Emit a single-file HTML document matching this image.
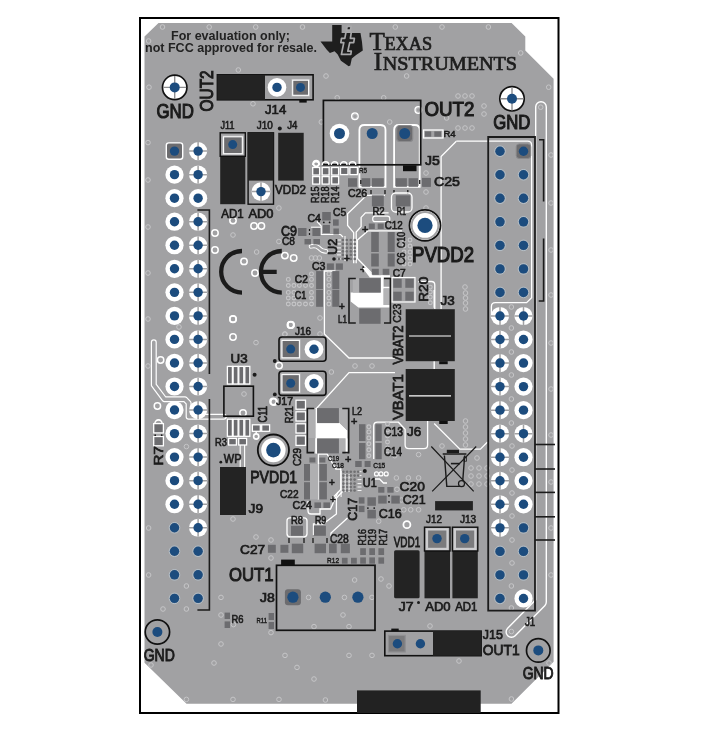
<!DOCTYPE html><html><head><meta charset="utf-8"><style>html,body{margin:0;padding:0;background:#fff;width:702px;height:736px;overflow:hidden}svg{display:block;will-change:transform}</style></head><body>
<svg width="702" height="736" viewBox="0 0 702 736">
<path d="M158.5 23H511.6L525.3 36.6V50.6L553.6 78.8V661.7L511.5 703.7H186.5L144.5 662.8V36.5Z" fill="#a1a1a3"/>
<rect x="140" y="18" width="418.5" height="695" fill="none" stroke="#000" stroke-width="2"/>
<path d="M456.3 141.2H527.6Q531.6 141.2 531.6 145.2V297.8L526.6 302.7H495.4Q491.4 302.7 491.4 306.7V318" fill="none" stroke="#ffffff" stroke-width="1.3"/>
<path d="M441.1 309V156.5L456.3 141.2" fill="none" stroke="#ffffff" stroke-width="1.3"/>
<path d="M434.8 309V285Q434.8 281.5 431.3 281.5H418" fill="none" stroke="#ffffff" stroke-width="1.3"/>
<path d="M434.2 423.5L459.9 449.1H480.4L487.5 442" fill="none" stroke="#ffffff" stroke-width="1.3"/>
<path d="M335.5 271H324.4V334L349 358H395" fill="none" stroke="#ffffff" stroke-width="1.3"/>
<path d="M316 409L349 372.6H395" fill="none" stroke="#ffffff" stroke-width="1.3"/>
<path d="M541 107V602L511.4 632" fill="none" stroke="#ffffff" stroke-width="12.0" stroke-linecap="round" stroke-linejoin="round"/>
<path d="M541 107V602L511.4 632" fill="none" stroke="#a1a1a3" stroke-width="9.2" stroke-linecap="round" stroke-linejoin="round"/>
<path d="M153.8 342.2V385L164.4 399.2H185L188.6 403V416.8H223.8" fill="none" stroke="#ffffff" stroke-width="6.0" stroke-linecap="round" stroke-linejoin="round"/>
<path d="M153.8 342.2V385L164.4 399.2H185L188.6 403V416.8H223.8" fill="none" stroke="#a1a1a3" stroke-width="3.6" stroke-linecap="round" stroke-linejoin="round"/>
<path d="M385 195.4H366.6L347.6 213.7V225.4L353.7 232.7V263.3" fill="none" stroke="#ffffff" stroke-width="1.3"/>
<path d="M388.6 212.9H365.4L361.1 217.4V226.6L356.2 232.1V263.3" fill="none" stroke="#ffffff" stroke-width="1.3"/>
<path d="M402 230.9H367.8L357.4 240V258.4L372.7 274.3" fill="none" stroke="#ffffff" stroke-width="1.3"/>
<path d="M337 240H341" fill="none" stroke="#ffffff" stroke-width="0.9"/>
<path d="M337 243.9H341" fill="none" stroke="#ffffff" stroke-width="0.9"/>
<path d="M337 247.9H341" fill="none" stroke="#ffffff" stroke-width="0.9"/>
<path d="M337 251.4H341" fill="none" stroke="#ffffff" stroke-width="0.9"/>
<path d="M337 254.9H341" fill="none" stroke="#ffffff" stroke-width="0.9"/>
<path d="M337 258.9H341" fill="none" stroke="#ffffff" stroke-width="0.9"/>
<path d="M345 236V261" fill="none" stroke="#ffffff" stroke-width="1.0"/>
<path d="M311 246.4Q316 245 319 248Q322 251.4 326 251.4" fill="none" stroke="#ffffff" stroke-width="4.6" stroke-linecap="round" stroke-linejoin="round"/>
<path d="M311 246.4Q316 245 319 248Q322 251.4 326 251.4" fill="none" stroke="#a1a1a3" stroke-width="2.6" stroke-linecap="round" stroke-linejoin="round"/>
<path d="M434.2 290V307.8M434.2 361V369" fill="none" stroke="#ffffff" stroke-width="1.4"/>
<path d="M240.2 445V467M244.6 445V467" fill="none" stroke="#ffffff" stroke-width="1.1"/>
<path d="M373.7 459V426Q373.7 422.2 377.5 422.2H398.4L405.1 429.2V445Q405.1 448.6 409 448.6H424Q427.6 448.6 427.6 445V421" fill="none" stroke="#ffffff" stroke-width="1.3"/>
<path d="M341.1 471V497M345.1 474V492M349.1 474V492" fill="none" stroke="#ffffff" stroke-width="1.0"/>
<path d="M374 479H379.5L383.5 483H387" fill="none" stroke="#ffffff" stroke-width="1.3"/>
<path d="M318.4 499.4V454H327L335.8 469H340.8V489.4L330.5 500" fill="none" stroke="#ffffff" stroke-width="1.3"/>
<path d="M308 501V511Q308 514 311 514H320V509H330.5L338 492" fill="none" stroke="#ffffff" stroke-width="1.3"/>
<path d="M343 491L336.4 498V514L323 524H313.5V535" fill="none" stroke="#ffffff" stroke-width="1.3"/>
<path d="M347.5 518L331 533V540" fill="none" stroke="#ffffff" stroke-width="1.3"/>
<path d="M287 517.8V536M307 517.8V536" fill="none" stroke="#ffffff" stroke-width="0"/>
<path d="M317 221.5L321.2 226V234.5H340.5L343 237" fill="none" stroke="#ffffff" stroke-width="1.2"/>
<path d="M311 227.2H320.8" fill="none" stroke="#ffffff" stroke-width="1.0"/>
<circle cx="354.9" cy="116.3" r="3.2" fill="none" stroke="#ffffff" stroke-width="1.5"/>
<circle cx="418.3" cy="110" r="3.2" fill="none" stroke="#ffffff" stroke-width="1.5"/>
<circle cx="316.2" cy="163.5" r="2.8" fill="none" stroke="#ffffff" stroke-width="1.8"/>
<circle cx="311.5" cy="258" r="2.3" fill="none" stroke="#c6c6c8" stroke-width="1.0"/>
<circle cx="315.4" cy="258" r="2.3" fill="none" stroke="#c6c6c8" stroke-width="1.0"/>
<circle cx="319.4" cy="258" r="2.3" fill="none" stroke="#c6c6c8" stroke-width="1.0"/>
<circle cx="256.2" cy="436.5" r="2.6" fill="none" stroke="#ffffff" stroke-width="1.6"/>
<circle cx="376.5" cy="473.9" r="2.0" fill="none" stroke="#ffffff" stroke-width="1.2"/>
<circle cx="381" cy="473.9" r="2.0" fill="none" stroke="#ffffff" stroke-width="1.2"/>
<circle cx="386.2" cy="473.9" r="2.0" fill="none" stroke="#ffffff" stroke-width="1.2"/>
<circle cx="406.9" cy="524.7" r="3.5" fill="none" stroke="#ffffff" stroke-width="1.8"/>
<circle cx="162.5" cy="27" r="2.3" fill="none" stroke="#c6c6c8" stroke-width="1.0"/>
<circle cx="209.2" cy="27" r="2.3" fill="none" stroke="#c6c6c8" stroke-width="1.0"/>
<circle cx="255.7" cy="27" r="2.3" fill="none" stroke="#c6c6c8" stroke-width="1.0"/>
<circle cx="148.6" cy="41" r="2.3" fill="none" stroke="#c6c6c8" stroke-width="1.0"/>
<circle cx="238.3" cy="70" r="2.3" fill="none" stroke="#c6c6c8" stroke-width="1.0"/>
<circle cx="149" cy="87.2" r="2.3" fill="none" stroke="#c6c6c8" stroke-width="1.0"/>
<circle cx="253" cy="103.8" r="2.3" fill="none" stroke="#c6c6c8" stroke-width="1.0"/>
<circle cx="148" cy="142.6" r="2.3" fill="none" stroke="#c6c6c8" stroke-width="1.0"/>
<circle cx="302.5" cy="27" r="2.3" fill="none" stroke="#c6c6c8" stroke-width="1.0"/>
<circle cx="326" cy="76" r="2.3" fill="none" stroke="#c6c6c8" stroke-width="1.0"/>
<circle cx="395.3" cy="27" r="2.3" fill="none" stroke="#c6c6c8" stroke-width="1.0"/>
<circle cx="406.6" cy="76" r="2.3" fill="none" stroke="#c6c6c8" stroke-width="1.0"/>
<circle cx="389.7" cy="122" r="2.3" fill="none" stroke="#c6c6c8" stroke-width="1.0"/>
<circle cx="337.2" cy="97.8" r="2.3" fill="none" stroke="#c6c6c8" stroke-width="1.0"/>
<circle cx="383.7" cy="97.8" r="2.3" fill="none" stroke="#c6c6c8" stroke-width="1.0"/>
<circle cx="321.3" cy="122" r="2.3" fill="none" stroke="#c6c6c8" stroke-width="1.0"/>
<circle cx="442" cy="27" r="2.3" fill="none" stroke="#c6c6c8" stroke-width="1.0"/>
<circle cx="488.4" cy="27" r="2.3" fill="none" stroke="#c6c6c8" stroke-width="1.0"/>
<circle cx="520.7" cy="53" r="2.3" fill="none" stroke="#c6c6c8" stroke-width="1.0"/>
<circle cx="548.7" cy="87.2" r="2.3" fill="none" stroke="#c6c6c8" stroke-width="1.0"/>
<circle cx="458" cy="96" r="2.3" fill="none" stroke="#c6c6c8" stroke-width="1.0"/>
<circle cx="465" cy="96" r="2.3" fill="none" stroke="#c6c6c8" stroke-width="1.0"/>
<circle cx="472" cy="96" r="2.3" fill="none" stroke="#c6c6c8" stroke-width="1.0"/>
<circle cx="446.6" cy="118" r="2.3" fill="none" stroke="#c6c6c8" stroke-width="1.0"/>
<circle cx="484" cy="106" r="2.3" fill="none" stroke="#c6c6c8" stroke-width="1.0"/>
<circle cx="484" cy="114" r="2.3" fill="none" stroke="#c6c6c8" stroke-width="1.0"/>
<circle cx="458" cy="128" r="2.3" fill="none" stroke="#c6c6c8" stroke-width="1.0"/>
<circle cx="465" cy="128" r="2.3" fill="none" stroke="#c6c6c8" stroke-width="1.0"/>
<circle cx="472" cy="128" r="2.3" fill="none" stroke="#c6c6c8" stroke-width="1.0"/>
<circle cx="540.7" cy="107.2" r="2.3" fill="none" stroke="#c6c6c8" stroke-width="1.0"/>
<circle cx="551" cy="155" r="2.3" fill="none" stroke="#c6c6c8" stroke-width="1.0"/>
<circle cx="148" cy="180" r="2.3" fill="none" stroke="#c6c6c8" stroke-width="1.0"/>
<circle cx="148" cy="227" r="2.3" fill="none" stroke="#c6c6c8" stroke-width="1.0"/>
<circle cx="148" cy="273" r="2.3" fill="none" stroke="#c6c6c8" stroke-width="1.0"/>
<circle cx="233" cy="235" r="2.3" fill="none" stroke="#c6c6c8" stroke-width="1.0"/>
<circle cx="256.6" cy="252" r="2.3" fill="none" stroke="#c6c6c8" stroke-width="1.0"/>
<circle cx="278.9" cy="208" r="2.3" fill="none" stroke="#c6c6c8" stroke-width="1.0"/>
<circle cx="278.9" cy="241.5" r="2.3" fill="none" stroke="#c6c6c8" stroke-width="1.0"/>
<circle cx="148" cy="319" r="2.3" fill="none" stroke="#c6c6c8" stroke-width="1.0"/>
<circle cx="179" cy="327" r="2.3" fill="none" stroke="#c6c6c8" stroke-width="1.0"/>
<circle cx="148" cy="366" r="2.3" fill="none" stroke="#c6c6c8" stroke-width="1.0"/>
<circle cx="256" cy="342.6" r="2.3" fill="none" stroke="#c6c6c8" stroke-width="1.0"/>
<circle cx="244" cy="394" r="2.3" fill="none" stroke="#c6c6c8" stroke-width="1.0"/>
<circle cx="284.8" cy="334.2" r="2.3" fill="none" stroke="#c6c6c8" stroke-width="1.0"/>
<circle cx="186.4" cy="446.6" r="2.3" fill="none" stroke="#c6c6c8" stroke-width="1.0"/>
<circle cx="148.6" cy="528" r="2.3" fill="none" stroke="#c6c6c8" stroke-width="1.0"/>
<circle cx="148.6" cy="575" r="2.3" fill="none" stroke="#c6c6c8" stroke-width="1.0"/>
<circle cx="233" cy="519" r="2.3" fill="none" stroke="#c6c6c8" stroke-width="1.0"/>
<circle cx="256" cy="537" r="2.3" fill="none" stroke="#c6c6c8" stroke-width="1.0"/>
<circle cx="271" cy="540" r="2.3" fill="none" stroke="#c6c6c8" stroke-width="1.0"/>
<circle cx="271" cy="558" r="2.3" fill="none" stroke="#c6c6c8" stroke-width="1.0"/>
<circle cx="186.4" cy="586" r="2.3" fill="none" stroke="#c6c6c8" stroke-width="1.0"/>
<circle cx="221" cy="597.4" r="2.3" fill="none" stroke="#c6c6c8" stroke-width="1.0"/>
<circle cx="163" cy="609" r="2.3" fill="none" stroke="#c6c6c8" stroke-width="1.0"/>
<circle cx="186.4" cy="609" r="2.3" fill="none" stroke="#c6c6c8" stroke-width="1.0"/>
<circle cx="221" cy="615" r="2.3" fill="none" stroke="#c6c6c8" stroke-width="1.0"/>
<circle cx="233.4" cy="624.6" r="2.3" fill="none" stroke="#c6c6c8" stroke-width="1.0"/>
<circle cx="271" cy="632.6" r="2.3" fill="none" stroke="#c6c6c8" stroke-width="1.0"/>
<circle cx="221" cy="644" r="2.3" fill="none" stroke="#c6c6c8" stroke-width="1.0"/>
<circle cx="214" cy="663" r="2.3" fill="none" stroke="#c6c6c8" stroke-width="1.0"/>
<circle cx="151" cy="665" r="2.3" fill="none" stroke="#c6c6c8" stroke-width="1.0"/>
<circle cx="186.4" cy="699.4" r="2.3" fill="none" stroke="#c6c6c8" stroke-width="1.0"/>
<circle cx="233" cy="699.4" r="2.3" fill="none" stroke="#c6c6c8" stroke-width="1.0"/>
<circle cx="279" cy="699.4" r="2.3" fill="none" stroke="#c6c6c8" stroke-width="1.0"/>
<circle cx="354.6" cy="580" r="2.3" fill="none" stroke="#c6c6c8" stroke-width="1.0"/>
<circle cx="381" cy="579" r="2.3" fill="none" stroke="#c6c6c8" stroke-width="1.0"/>
<circle cx="389" cy="586" r="2.3" fill="none" stroke="#c6c6c8" stroke-width="1.0"/>
<circle cx="308.6" cy="597.4" r="2.3" fill="none" stroke="#c6c6c8" stroke-width="1.0"/>
<circle cx="344.4" cy="597.4" r="2.3" fill="none" stroke="#c6c6c8" stroke-width="1.0"/>
<circle cx="372" cy="597.4" r="2.3" fill="none" stroke="#c6c6c8" stroke-width="1.0"/>
<circle cx="343" cy="615" r="2.3" fill="none" stroke="#c6c6c8" stroke-width="1.0"/>
<circle cx="314" cy="626.6" r="2.3" fill="none" stroke="#c6c6c8" stroke-width="1.0"/>
<circle cx="349" cy="626.6" r="2.3" fill="none" stroke="#c6c6c8" stroke-width="1.0"/>
<circle cx="285" cy="655.4" r="2.3" fill="none" stroke="#c6c6c8" stroke-width="1.0"/>
<circle cx="349" cy="655.4" r="2.3" fill="none" stroke="#c6c6c8" stroke-width="1.0"/>
<circle cx="372" cy="655.4" r="2.3" fill="none" stroke="#c6c6c8" stroke-width="1.0"/>
<circle cx="297" cy="667.4" r="2.3" fill="none" stroke="#c6c6c8" stroke-width="1.0"/>
<circle cx="314" cy="679" r="2.3" fill="none" stroke="#c6c6c8" stroke-width="1.0"/>
<circle cx="325.4" cy="700" r="2.3" fill="none" stroke="#c6c6c8" stroke-width="1.0"/>
<circle cx="511.4" cy="586" r="2.3" fill="none" stroke="#c6c6c8" stroke-width="1.0"/>
<circle cx="511.4" cy="608" r="2.3" fill="none" stroke="#c6c6c8" stroke-width="1.0"/>
<circle cx="430" cy="626" r="2.3" fill="none" stroke="#c6c6c8" stroke-width="1.0"/>
<circle cx="511.4" cy="631.5" r="2.3" fill="none" stroke="#c6c6c8" stroke-width="1.0"/>
<circle cx="459" cy="661" r="2.3" fill="none" stroke="#c6c6c8" stroke-width="1.0"/>
<circle cx="511.4" cy="699" r="2.3" fill="none" stroke="#c6c6c8" stroke-width="1.0"/>
<circle cx="549" cy="663" r="2.3" fill="none" stroke="#c6c6c8" stroke-width="1.0"/>
<circle cx="442" cy="446" r="2.3" fill="none" stroke="#c6c6c8" stroke-width="1.0"/>
<circle cx="477" cy="458" r="2.3" fill="none" stroke="#c6c6c8" stroke-width="1.0"/>
<circle cx="512" cy="446" r="2.3" fill="none" stroke="#c6c6c8" stroke-width="1.0"/>
<circle cx="512" cy="470" r="2.3" fill="none" stroke="#c6c6c8" stroke-width="1.0"/>
<circle cx="512" cy="493" r="2.3" fill="none" stroke="#c6c6c8" stroke-width="1.0"/>
<circle cx="512" cy="516" r="2.3" fill="none" stroke="#c6c6c8" stroke-width="1.0"/>
<circle cx="512" cy="540" r="2.3" fill="none" stroke="#c6c6c8" stroke-width="1.0"/>
<circle cx="512" cy="563" r="2.3" fill="none" stroke="#c6c6c8" stroke-width="1.0"/>
<circle cx="551" cy="482" r="2.3" fill="none" stroke="#c6c6c8" stroke-width="1.0"/>
<circle cx="551" cy="528" r="2.3" fill="none" stroke="#c6c6c8" stroke-width="1.0"/>
<circle cx="551" cy="575" r="2.3" fill="none" stroke="#c6c6c8" stroke-width="1.0"/>
<circle cx="511.4" cy="307" r="2.3" fill="none" stroke="#c6c6c8" stroke-width="1.0"/>
<circle cx="511.4" cy="328" r="2.3" fill="none" stroke="#c6c6c8" stroke-width="1.0"/>
<circle cx="511.4" cy="352" r="2.3" fill="none" stroke="#c6c6c8" stroke-width="1.0"/>
<circle cx="511.4" cy="375" r="2.3" fill="none" stroke="#c6c6c8" stroke-width="1.0"/>
<circle cx="511.4" cy="399" r="2.3" fill="none" stroke="#c6c6c8" stroke-width="1.0"/>
<circle cx="511.4" cy="423" r="2.3" fill="none" stroke="#c6c6c8" stroke-width="1.0"/>
<circle cx="551" cy="343" r="2.3" fill="none" stroke="#c6c6c8" stroke-width="1.0"/>
<circle cx="551" cy="389" r="2.3" fill="none" stroke="#c6c6c8" stroke-width="1.0"/>
<circle cx="551" cy="435" r="2.3" fill="none" stroke="#c6c6c8" stroke-width="1.0"/>
<circle cx="465.5" cy="293" r="2.3" fill="none" stroke="#c6c6c8" stroke-width="1.0"/>
<circle cx="465.5" cy="298" r="2.3" fill="none" stroke="#c6c6c8" stroke-width="1.0"/>
<circle cx="465.5" cy="303" r="2.3" fill="none" stroke="#c6c6c8" stroke-width="1.0"/>
<circle cx="465.5" cy="309" r="2.3" fill="none" stroke="#c6c6c8" stroke-width="1.0"/>
<circle cx="465.5" cy="421" r="2.3" fill="none" stroke="#c6c6c8" stroke-width="1.0"/>
<circle cx="465.5" cy="427" r="2.3" fill="none" stroke="#c6c6c8" stroke-width="1.0"/>
<circle cx="465.5" cy="433" r="2.3" fill="none" stroke="#c6c6c8" stroke-width="1.0"/>
<circle cx="426" cy="173" r="2.3" fill="none" stroke="#c6c6c8" stroke-width="1.0"/>
<circle cx="426" cy="192" r="2.3" fill="none" stroke="#c6c6c8" stroke-width="1.0"/>
<circle cx="426" cy="208" r="2.3" fill="none" stroke="#c6c6c8" stroke-width="1.0"/>
<circle cx="551" cy="203" r="2.3" fill="none" stroke="#c6c6c8" stroke-width="1.0"/>
<circle cx="551" cy="250" r="2.3" fill="none" stroke="#c6c6c8" stroke-width="1.0"/>
<circle cx="551" cy="295" r="2.3" fill="none" stroke="#c6c6c8" stroke-width="1.0"/>
<circle cx="465" cy="287" r="2.3" fill="none" stroke="#c6c6c8" stroke-width="1.0"/>
<circle cx="355" cy="366" r="2.3" fill="none" stroke="#c6c6c8" stroke-width="1.0"/>
<circle cx="372" cy="366" r="2.3" fill="none" stroke="#c6c6c8" stroke-width="1.0"/>
<circle cx="331.4" cy="372" r="2.3" fill="none" stroke="#c6c6c8" stroke-width="1.0"/>
<circle cx="320" cy="318" r="2.3" fill="none" stroke="#c6c6c8" stroke-width="1.0"/>
<circle cx="285" cy="334" r="2.3" fill="none" stroke="#c6c6c8" stroke-width="1.0"/>
<circle cx="320" cy="334" r="2.3" fill="none" stroke="#c6c6c8" stroke-width="1.0"/>
<circle cx="355" cy="116.3" r="2.3" fill="none" stroke="#c6c6c8" stroke-width="1.0"/>
<circle cx="418.3" cy="110" r="2.3" fill="none" stroke="#c6c6c8" stroke-width="1.0"/>
<circle cx="233" cy="220.6" r="3.2" fill="none" stroke="#ffffff" stroke-width="1.5"/>
<circle cx="215" cy="233" r="3.2" fill="none" stroke="#ffffff" stroke-width="1.5"/>
<circle cx="215" cy="250" r="3.2" fill="none" stroke="#ffffff" stroke-width="1.5"/>
<circle cx="244" cy="261.4" r="3.2" fill="none" stroke="#ffffff" stroke-width="1.5"/>
<circle cx="255" cy="273" r="3.2" fill="none" stroke="#ffffff" stroke-width="1.5"/>
<circle cx="254" cy="226" r="3.2" fill="none" stroke="#ffffff" stroke-width="1.5"/>
<circle cx="261.4" cy="226" r="3.2" fill="none" stroke="#ffffff" stroke-width="1.5"/>
<circle cx="284.9" cy="255.6" r="3.2" fill="none" stroke="#ffffff" stroke-width="1.5"/>
<circle cx="293.7" cy="258" r="3.2" fill="none" stroke="#ffffff" stroke-width="1.5"/>
<circle cx="233" cy="319.2" r="3.2" fill="none" stroke="#ffffff" stroke-width="1.5"/>
<circle cx="290.8" cy="324.8" r="3.2" fill="none" stroke="#ffffff" stroke-width="1.5"/>
<circle cx="233" cy="319" r="3.2" fill="none" stroke="#ffffff" stroke-width="1.5"/>
<circle cx="233" cy="337" r="3.2" fill="none" stroke="#ffffff" stroke-width="1.5"/>
<circle cx="160.6" cy="360" r="3.2" fill="none" stroke="#ffffff" stroke-width="1.5"/>
<circle cx="157.4" cy="406" r="3.2" fill="none" stroke="#ffffff" stroke-width="1.5"/>
<circle cx="274" cy="402" r="3.2" fill="none" stroke="#ffffff" stroke-width="1.5"/>
<circle cx="243" cy="413" r="3.2" fill="none" stroke="#ffffff" stroke-width="1.5"/>
<circle cx="291" cy="325" r="3.2" fill="none" stroke="#ffffff" stroke-width="1.5"/>
<circle cx="290.5" cy="325" r="3.2" fill="none" stroke="#ffffff" stroke-width="1.5"/>
<circle cx="279.1" cy="365.6" r="3.2" fill="none" stroke="#ffffff" stroke-width="1.5"/>
<circle cx="273.1" cy="401.5" r="3.2" fill="none" stroke="#ffffff" stroke-width="1.5"/>
<circle cx="311.5" cy="273.9" r="1.9" fill="none" stroke="#c6c6c8" stroke-width="1.1"/>
<circle cx="288.3" cy="279.4" r="1.9" fill="none" stroke="#c6c6c8" stroke-width="1.1"/>
<circle cx="311.5" cy="279.4" r="1.9" fill="none" stroke="#c6c6c8" stroke-width="1.1"/>
<circle cx="288.3" cy="285.5" r="1.9" fill="none" stroke="#c6c6c8" stroke-width="1.1"/>
<circle cx="293.9" cy="285.5" r="1.9" fill="none" stroke="#c6c6c8" stroke-width="1.1"/>
<circle cx="299.4" cy="285.5" r="1.9" fill="none" stroke="#c6c6c8" stroke-width="1.1"/>
<circle cx="305.5" cy="285.5" r="1.9" fill="none" stroke="#c6c6c8" stroke-width="1.1"/>
<circle cx="311.5" cy="285.5" r="1.9" fill="none" stroke="#c6c6c8" stroke-width="1.1"/>
<circle cx="288.3" cy="292.4" r="1.9" fill="none" stroke="#c6c6c8" stroke-width="1.1"/>
<circle cx="293.9" cy="292.4" r="1.9" fill="none" stroke="#c6c6c8" stroke-width="1.1"/>
<circle cx="311.5" cy="292.4" r="1.9" fill="none" stroke="#c6c6c8" stroke-width="1.1"/>
<circle cx="288.3" cy="298" r="1.9" fill="none" stroke="#c6c6c8" stroke-width="1.1"/>
<circle cx="293.9" cy="298" r="1.9" fill="none" stroke="#c6c6c8" stroke-width="1.1"/>
<circle cx="311.5" cy="298" r="1.9" fill="none" stroke="#c6c6c8" stroke-width="1.1"/>
<circle cx="288.3" cy="304" r="1.9" fill="none" stroke="#c6c6c8" stroke-width="1.1"/>
<circle cx="293.9" cy="304" r="1.9" fill="none" stroke="#c6c6c8" stroke-width="1.1"/>
<circle cx="299.4" cy="304" r="1.9" fill="none" stroke="#c6c6c8" stroke-width="1.1"/>
<circle cx="305.5" cy="304" r="1.9" fill="none" stroke="#c6c6c8" stroke-width="1.1"/>
<circle cx="311.5" cy="304" r="1.9" fill="none" stroke="#c6c6c8" stroke-width="1.1"/>
<circle cx="328.9" cy="273.9" r="1.9" fill="none" stroke="#c6c6c8" stroke-width="1.1"/>
<circle cx="328.9" cy="279.4" r="1.9" fill="none" stroke="#c6c6c8" stroke-width="1.1"/>
<circle cx="328.9" cy="285.5" r="1.9" fill="none" stroke="#c6c6c8" stroke-width="1.1"/>
<circle cx="328.9" cy="292.4" r="1.9" fill="none" stroke="#c6c6c8" stroke-width="1.1"/>
<circle cx="328.9" cy="298" r="1.9" fill="none" stroke="#c6c6c8" stroke-width="1.1"/>
<circle cx="328.9" cy="304" r="1.9" fill="none" stroke="#c6c6c8" stroke-width="1.1"/>
<circle cx="368.9" cy="426.8" r="1.9" fill="none" stroke="#c6c6c8" stroke-width="1.1"/>
<circle cx="368.9" cy="431.9" r="1.9" fill="none" stroke="#c6c6c8" stroke-width="1.1"/>
<circle cx="368.9" cy="437.9" r="1.9" fill="none" stroke="#c6c6c8" stroke-width="1.1"/>
<circle cx="368.9" cy="443.8" r="1.9" fill="none" stroke="#c6c6c8" stroke-width="1.1"/>
<circle cx="368.9" cy="449.8" r="1.9" fill="none" stroke="#c6c6c8" stroke-width="1.1"/>
<circle cx="368.9" cy="455.8" r="1.9" fill="none" stroke="#c6c6c8" stroke-width="1.1"/>
<circle cx="387.5" cy="424" r="1.9" fill="none" stroke="#c6c6c8" stroke-width="1.1"/>
<circle cx="387.5" cy="430" r="1.9" fill="none" stroke="#c6c6c8" stroke-width="1.1"/>
<circle cx="387.5" cy="436" r="1.9" fill="none" stroke="#c6c6c8" stroke-width="1.1"/>
<circle cx="387.5" cy="442" r="1.9" fill="none" stroke="#c6c6c8" stroke-width="1.1"/>
<circle cx="387.5" cy="448" r="1.9" fill="none" stroke="#c6c6c8" stroke-width="1.1"/>
<circle cx="387.5" cy="454" r="1.9" fill="none" stroke="#c6c6c8" stroke-width="1.1"/>
<circle cx="404" cy="240" r="1.9" fill="none" stroke="#c6c6c8" stroke-width="1.1"/>
<circle cx="404" cy="246" r="1.9" fill="none" stroke="#c6c6c8" stroke-width="1.1"/>
<circle cx="404" cy="252" r="1.9" fill="none" stroke="#c6c6c8" stroke-width="1.1"/>
<circle cx="404" cy="258" r="1.9" fill="none" stroke="#c6c6c8" stroke-width="1.1"/>
<circle cx="404" cy="264" r="1.9" fill="none" stroke="#c6c6c8" stroke-width="1.1"/>
<circle cx="410" cy="240" r="1.9" fill="none" stroke="#c6c6c8" stroke-width="1.1"/>
<circle cx="410" cy="246" r="1.9" fill="none" stroke="#c6c6c8" stroke-width="1.1"/>
<circle cx="410" cy="252" r="1.9" fill="none" stroke="#c6c6c8" stroke-width="1.1"/>
<circle cx="410" cy="258" r="1.9" fill="none" stroke="#c6c6c8" stroke-width="1.1"/>
<circle cx="410" cy="264" r="1.9" fill="none" stroke="#c6c6c8" stroke-width="1.1"/>
<circle cx="471" cy="468" r="2.3" fill="none" stroke="#c6c6c8" stroke-width="1.0"/>
<circle cx="471" cy="476" r="2.3" fill="none" stroke="#c6c6c8" stroke-width="1.0"/>
<circle cx="471" cy="484" r="2.3" fill="none" stroke="#c6c6c8" stroke-width="1.0"/>
<circle cx="479" cy="468" r="2.3" fill="none" stroke="#c6c6c8" stroke-width="1.0"/>
<circle cx="479" cy="476" r="2.3" fill="none" stroke="#c6c6c8" stroke-width="1.0"/>
<circle cx="479" cy="484" r="2.3" fill="none" stroke="#c6c6c8" stroke-width="1.0"/>
<circle cx="487" cy="468" r="2.3" fill="none" stroke="#c6c6c8" stroke-width="1.0"/>
<circle cx="487" cy="476" r="2.3" fill="none" stroke="#c6c6c8" stroke-width="1.0"/>
<circle cx="487" cy="484" r="2.3" fill="none" stroke="#c6c6c8" stroke-width="1.0"/>
<circle cx="465.5" cy="439" r="2.3" fill="none" stroke="#c6c6c8" stroke-width="1.0"/>
<circle cx="465.5" cy="445" r="2.3" fill="none" stroke="#c6c6c8" stroke-width="1.0"/>
<circle cx="396.4" cy="477.9" r="2.3" fill="none" stroke="#c6c6c8" stroke-width="1.0"/>
<circle cx="408.4" cy="477.9" r="2.3" fill="none" stroke="#c6c6c8" stroke-width="1.0"/>
<circle cx="418.6" cy="477.9" r="2.3" fill="none" stroke="#c6c6c8" stroke-width="1.0"/>
<circle cx="397" cy="489.3" r="2.3" fill="none" stroke="#c6c6c8" stroke-width="1.0"/>
<circle cx="401.5" cy="500" r="2.3" fill="none" stroke="#c6c6c8" stroke-width="1.0"/>
<circle cx="410.7" cy="509.8" r="2.3" fill="none" stroke="#c6c6c8" stroke-width="1.0"/>
<circle cx="418.6" cy="509.8" r="2.3" fill="none" stroke="#c6c6c8" stroke-width="1.0"/>
<circle cx="403.8" cy="509.8" r="2.3" fill="none" stroke="#c6c6c8" stroke-width="1.0"/>
<circle cx="378.7" cy="521.2" r="2.3" fill="none" stroke="#c6c6c8" stroke-width="1.0"/>
<circle cx="394.7" cy="455.7" r="2.3" fill="none" stroke="#c6c6c8" stroke-width="1.0"/>
<circle cx="418.6" cy="454.6" r="2.3" fill="none" stroke="#c6c6c8" stroke-width="1.0"/>
<circle cx="430.3" cy="287.1" r="1.9" fill="none" stroke="#c6c6c8" stroke-width="1.1"/>
<circle cx="430.3" cy="292" r="1.9" fill="none" stroke="#c6c6c8" stroke-width="1.1"/>
<circle cx="430.3" cy="297.1" r="1.9" fill="none" stroke="#c6c6c8" stroke-width="1.1"/>
<circle cx="430.3" cy="302.8" r="1.9" fill="none" stroke="#c6c6c8" stroke-width="1.1"/>
<rect x="357" y="690.4" width="123.7" height="22.6" rx="0" fill="#222"/>
<text x="171" y="39.5" font-family="Liberation Sans" font-size="12.5" font-weight="bold" fill="#222" text-anchor="start" textLength="119" lengthAdjust="spacingAndGlyphs">For evaluation only;</text>
<text x="145" y="52.3" font-family="Liberation Sans" font-size="12.5" font-weight="bold" fill="#222" text-anchor="start" textLength="172" lengthAdjust="spacingAndGlyphs">not FCC approved for resale.</text>
<path d="M332.2 25.1H341.6V32.9H360.5L362 42L362.8 50.6L355.8 55.3L351.8 58.4L350.3 65.5L348.7 66.2L340.9 60.75L337.7 54.5L334.6 51.3L329.9 52.9L326.8 49.8L320.5 41.5H332.2Z" fill="#1e1e1e"/>
<path d="M347.2 26.4H351.2L350.4 30.2H346.4Z" fill="#1e1e1e" stroke="#a8a8aa" stroke-width="1.7" stroke-linejoin="round"/>
<path d="M346 32.2H351.3L350.4 38.4H354.4L353.7 42.6H349.7L347.8 51.2H351.3L350.8 54.4H341.4L343.8 42.6H340.8L341.5 38.4H344.8Z" fill="#1e1e1e" stroke="#a8a8aa" stroke-width="1.7" stroke-linejoin="round"/>
<g stroke="#1e1e1e" stroke-width="0.7">
<text x="369.6" y="49.7" font-family="Liberation Serif" font-size="25" font-weight="normal" fill="#1e1e1e" text-anchor="start">T</text>
<text x="384.4" y="49.7" font-family="Liberation Serif" font-size="18.3" font-weight="normal" fill="#1e1e1e" text-anchor="start" textLength="47.8" lengthAdjust="spacingAndGlyphs">EXAS</text>
<text x="373.8" y="70.2" font-family="Liberation Serif" font-size="25" font-weight="normal" fill="#1e1e1e" text-anchor="start">I</text>
<text x="382.7" y="70.2" font-family="Liberation Serif" font-size="19" font-weight="normal" fill="#1e1e1e" text-anchor="start" textLength="134.3" lengthAdjust="spacingAndGlyphs">NSTRUMENTS</text>
</g>
<circle cx="174.7" cy="87.4" r="12.2" fill="#ffffff" stroke="#111" stroke-width="1.7"/>
<path d="M163.2 87.4H186.2M174.7 75.9V98.9" stroke="#8e8e90" stroke-width="1.4"/>
<circle cx="174.7" cy="87.4" r="5" fill="#1c4c7e"/>
<text x="156.5" y="117.8" font-family="Liberation Sans" font-size="20.5" font-weight="normal" fill="#1b1b1b" text-anchor="start" textLength="37.4" lengthAdjust="spacingAndGlyphs" stroke="#1b1b1b" stroke-width="1.13">GND</text>
<circle cx="512" cy="98.8" r="12.2" fill="#ffffff" stroke="#111" stroke-width="1.7"/>
<path d="M500.5 98.8H523.5M512 87.3V110.3" stroke="#8e8e90" stroke-width="1.4"/>
<circle cx="512" cy="98.8" r="5" fill="#1c4c7e"/>
<text x="493.2" y="128.7" font-family="Liberation Sans" font-size="20.5" font-weight="normal" fill="#1b1b1b" text-anchor="start" textLength="37.1" lengthAdjust="spacingAndGlyphs" stroke="#1b1b1b" stroke-width="1.13">GND</text>
<circle cx="157.4" cy="632" r="12.2" fill="none" stroke="#111" stroke-width="1.7"/>
<circle cx="157.4" cy="632" r="5" fill="#1c4c7e"/>
<text x="143.7" y="660.6" font-family="Liberation Sans" font-size="17" font-weight="normal" fill="#1b1b1b" text-anchor="start" textLength="31.2" lengthAdjust="spacingAndGlyphs" stroke="#1b1b1b" stroke-width="0.94">GND</text>
<circle cx="538.3" cy="650.4" r="11.799999999999999" fill="none" stroke="#111" stroke-width="1.7"/>
<circle cx="538.3" cy="650.4" r="5" fill="#1c4c7e"/>
<text x="522.7" y="679.4" font-family="Liberation Sans" font-size="16.5" font-weight="normal" fill="#1b1b1b" text-anchor="start" textLength="31" lengthAdjust="spacingAndGlyphs" stroke="#1b1b1b" stroke-width="0.91">GND</text>
<rect x="166.3" y="142.9" width="16.4" height="16.4" rx="2.5" fill="#6c6c6f" stroke="#ffffff" stroke-width="1.4"/>
<circle cx="174.5" cy="151.1" r="4.7" fill="#1c4c7e"/>
<circle cx="198.1" cy="151.1" r="9.1" fill="#ffffff"/>
<path d="M189.0 151.1H207.2M198.1 142.0V160.2" stroke="#a1a1a3" stroke-width="1.5"/>
<circle cx="198.1" cy="151.1" r="4.7" fill="#1c4c7e"/>
<circle cx="174.5" cy="174.64" r="9.1" fill="#ffffff"/>
<circle cx="174.5" cy="174.64" r="4.7" fill="#1c4c7e"/>
<circle cx="198.1" cy="174.64" r="9.1" fill="#ffffff"/>
<path d="M189.0 174.64H207.2M198.1 165.54V183.73999999999998" stroke="#a1a1a3" stroke-width="1.5"/>
<circle cx="198.1" cy="174.64" r="4.7" fill="#1c4c7e"/>
<circle cx="174.5" cy="198.18" r="9.1" fill="#ffffff"/>
<circle cx="174.5" cy="198.18" r="4.7" fill="#1c4c7e"/>
<circle cx="198.1" cy="198.18" r="9.1" fill="#ffffff"/>
<circle cx="198.1" cy="198.18" r="4.7" fill="#1c4c7e"/>
<circle cx="174.5" cy="221.72" r="9.1" fill="#ffffff"/>
<circle cx="174.5" cy="221.72" r="4.7" fill="#1c4c7e"/>
<circle cx="198.1" cy="221.72" r="9.1" fill="#ffffff"/>
<path d="M189.0 221.72H207.2M198.1 212.62V230.82" stroke="#a1a1a3" stroke-width="1.5"/>
<circle cx="198.1" cy="221.72" r="4.7" fill="#1c4c7e"/>
<circle cx="174.5" cy="245.26" r="9.1" fill="#ffffff"/>
<circle cx="174.5" cy="245.26" r="4.7" fill="#1c4c7e"/>
<circle cx="198.1" cy="245.26" r="9.1" fill="#ffffff"/>
<path d="M189.0 245.26H207.2M198.1 236.16V254.35999999999999" stroke="#a1a1a3" stroke-width="1.5"/>
<circle cx="198.1" cy="245.26" r="4.7" fill="#1c4c7e"/>
<circle cx="174.5" cy="268.8" r="9.1" fill="#ffffff"/>
<circle cx="174.5" cy="268.8" r="4.7" fill="#1c4c7e"/>
<circle cx="198.1" cy="268.8" r="9.1" fill="#ffffff"/>
<path d="M189.0 268.8H207.2M198.1 259.7V277.90000000000003" stroke="#a1a1a3" stroke-width="1.5"/>
<circle cx="198.1" cy="268.8" r="4.7" fill="#1c4c7e"/>
<circle cx="174.5" cy="292.34" r="9.1" fill="#ffffff"/>
<circle cx="174.5" cy="292.34" r="4.7" fill="#1c4c7e"/>
<circle cx="198.1" cy="292.34" r="9.1" fill="#ffffff"/>
<path d="M189.0 292.34H207.2M198.1 283.23999999999995V301.44" stroke="#a1a1a3" stroke-width="1.5"/>
<circle cx="198.1" cy="292.34" r="4.7" fill="#1c4c7e"/>
<circle cx="174.5" cy="315.88" r="9.1" fill="#ffffff"/>
<circle cx="174.5" cy="315.88" r="4.7" fill="#1c4c7e"/>
<circle cx="198.1" cy="315.88" r="9.1" fill="#ffffff"/>
<path d="M189.0 315.88H207.2M198.1 306.78V324.98" stroke="#a1a1a3" stroke-width="1.5"/>
<circle cx="198.1" cy="315.88" r="4.7" fill="#1c4c7e"/>
<circle cx="174.5" cy="339.42" r="9.1" fill="#ffffff"/>
<circle cx="174.5" cy="339.42" r="4.7" fill="#1c4c7e"/>
<circle cx="198.1" cy="339.42" r="9.1" fill="#ffffff"/>
<path d="M189.0 339.42H207.2M198.1 330.32V348.52000000000004" stroke="#a1a1a3" stroke-width="1.5"/>
<circle cx="198.1" cy="339.42" r="4.7" fill="#1c4c7e"/>
<circle cx="174.5" cy="362.96" r="9.1" fill="#ffffff"/>
<circle cx="174.5" cy="362.96" r="4.7" fill="#1c4c7e"/>
<circle cx="198.1" cy="362.96" r="9.1" fill="#ffffff"/>
<path d="M189.0 362.96H207.2M198.1 353.85999999999996V372.06" stroke="#a1a1a3" stroke-width="1.5"/>
<circle cx="198.1" cy="362.96" r="4.7" fill="#1c4c7e"/>
<circle cx="174.5" cy="386.5" r="9.1" fill="#ffffff"/>
<circle cx="174.5" cy="386.5" r="4.7" fill="#1c4c7e"/>
<circle cx="198.1" cy="386.5" r="9.1" fill="#ffffff"/>
<path d="M189.0 386.5H207.2M198.1 377.4V395.6" stroke="#a1a1a3" stroke-width="1.5"/>
<circle cx="198.1" cy="386.5" r="4.7" fill="#1c4c7e"/>
<circle cx="174.5" cy="410.04" r="9.1" fill="#ffffff"/>
<circle cx="174.5" cy="410.04" r="4.7" fill="#1c4c7e"/>
<circle cx="198.1" cy="410.04" r="9.1" fill="#ffffff"/>
<path d="M189.0 410.04H207.2M198.1 400.94V419.14000000000004" stroke="#a1a1a3" stroke-width="1.5"/>
<circle cx="198.1" cy="410.04" r="4.7" fill="#1c4c7e"/>
<circle cx="174.5" cy="433.58" r="9.1" fill="#ffffff"/>
<circle cx="174.5" cy="433.58" r="4.7" fill="#1c4c7e"/>
<circle cx="198.1" cy="433.58" r="9.1" fill="#ffffff"/>
<path d="M189.0 433.58H207.2M198.1 424.47999999999996V442.68" stroke="#a1a1a3" stroke-width="1.5"/>
<circle cx="198.1" cy="433.58" r="4.7" fill="#1c4c7e"/>
<circle cx="174.5" cy="457.12" r="9.1" fill="#ffffff"/>
<circle cx="174.5" cy="457.12" r="4.7" fill="#1c4c7e"/>
<circle cx="198.1" cy="457.12" r="9.1" fill="#ffffff"/>
<path d="M189.0 457.12H207.2M198.1 448.02V466.22" stroke="#a1a1a3" stroke-width="1.5"/>
<circle cx="198.1" cy="457.12" r="4.7" fill="#1c4c7e"/>
<circle cx="174.5" cy="480.66" r="9.1" fill="#ffffff"/>
<circle cx="174.5" cy="480.66" r="4.7" fill="#1c4c7e"/>
<circle cx="198.1" cy="480.66" r="9.1" fill="#ffffff"/>
<path d="M189.0 480.66H207.2M198.1 471.56V489.76000000000005" stroke="#a1a1a3" stroke-width="1.5"/>
<circle cx="198.1" cy="480.66" r="4.7" fill="#1c4c7e"/>
<circle cx="174.5" cy="504.2" r="9.1" fill="#ffffff"/>
<circle cx="174.5" cy="504.2" r="4.7" fill="#1c4c7e"/>
<circle cx="198.1" cy="504.2" r="9.1" fill="#ffffff"/>
<path d="M189.0 504.2H207.2M198.1 495.09999999999997V513.3" stroke="#a1a1a3" stroke-width="1.5"/>
<circle cx="198.1" cy="504.2" r="4.7" fill="#1c4c7e"/>
<circle cx="174.5" cy="527.74" r="5.3" fill="none" stroke="#b4bfc8" stroke-width="1"/>
<circle cx="174.5" cy="527.74" r="4.7" fill="#1c4c7e"/>
<circle cx="198.1" cy="527.74" r="9.1" fill="#ffffff"/>
<path d="M189.0 527.74H207.2M198.1 518.64V536.84" stroke="#a1a1a3" stroke-width="1.5"/>
<circle cx="198.1" cy="527.74" r="4.7" fill="#1c4c7e"/>
<circle cx="174.5" cy="551.28" r="5.3" fill="none" stroke="#b4bfc8" stroke-width="1"/>
<circle cx="174.5" cy="551.28" r="4.7" fill="#1c4c7e"/>
<circle cx="198.1" cy="551.28" r="5.3" fill="none" stroke="#b4bfc8" stroke-width="1"/>
<circle cx="198.1" cy="551.28" r="4.7" fill="#1c4c7e"/>
<circle cx="174.5" cy="574.82" r="5.3" fill="none" stroke="#b4bfc8" stroke-width="1"/>
<circle cx="174.5" cy="574.82" r="4.7" fill="#1c4c7e"/>
<circle cx="198.1" cy="574.82" r="5.3" fill="none" stroke="#b4bfc8" stroke-width="1"/>
<circle cx="198.1" cy="574.82" r="4.7" fill="#1c4c7e"/>
<circle cx="174.5" cy="598.36" r="5.3" fill="none" stroke="#b4bfc8" stroke-width="1"/>
<circle cx="174.5" cy="598.36" r="4.7" fill="#1c4c7e"/>
<circle cx="198.1" cy="598.36" r="5.3" fill="none" stroke="#b4bfc8" stroke-width="1"/>
<circle cx="198.1" cy="598.36" r="4.7" fill="#1c4c7e"/>
<path d="M197.4 210H209.4V374.1" fill="none" stroke="#1b1b1b" stroke-width="1.6"/>
<path d="M209.4 399V610H197.4" fill="none" stroke="#1b1b1b" stroke-width="1.6"/>
<circle cx="500" cy="151.2" r="5.3" fill="none" stroke="#b4bfc8" stroke-width="1"/>
<circle cx="500" cy="151.2" r="4.7" fill="#1c4c7e"/>
<rect x="516.2" y="143.89999999999998" width="14.6" height="14.6" rx="3" fill="#6c6c6f" stroke="#8a8a8c" stroke-width="1"/>
<circle cx="523.5" cy="151.2" r="4.7" fill="#1c4c7e"/>
<circle cx="500" cy="174.74" r="5.3" fill="none" stroke="#b4bfc8" stroke-width="1"/>
<circle cx="500" cy="174.74" r="4.7" fill="#1c4c7e"/>
<circle cx="523.5" cy="174.74" r="5.3" fill="none" stroke="#b4bfc8" stroke-width="1"/>
<circle cx="523.5" cy="174.74" r="4.7" fill="#1c4c7e"/>
<circle cx="500" cy="198.28" r="5.3" fill="none" stroke="#b4bfc8" stroke-width="1"/>
<circle cx="500" cy="198.28" r="4.7" fill="#1c4c7e"/>
<circle cx="523.5" cy="198.28" r="5.3" fill="none" stroke="#b4bfc8" stroke-width="1"/>
<circle cx="523.5" cy="198.28" r="4.7" fill="#1c4c7e"/>
<circle cx="500" cy="221.82" r="5.3" fill="none" stroke="#b4bfc8" stroke-width="1"/>
<circle cx="500" cy="221.82" r="4.7" fill="#1c4c7e"/>
<circle cx="523.5" cy="221.82" r="5.3" fill="none" stroke="#b4bfc8" stroke-width="1"/>
<circle cx="523.5" cy="221.82" r="4.7" fill="#1c4c7e"/>
<circle cx="500" cy="245.36" r="5.3" fill="none" stroke="#b4bfc8" stroke-width="1"/>
<circle cx="500" cy="245.36" r="4.7" fill="#1c4c7e"/>
<circle cx="523.5" cy="245.36" r="5.3" fill="none" stroke="#b4bfc8" stroke-width="1"/>
<circle cx="523.5" cy="245.36" r="4.7" fill="#1c4c7e"/>
<circle cx="500" cy="268.9" r="5.3" fill="none" stroke="#b4bfc8" stroke-width="1"/>
<circle cx="500" cy="268.9" r="4.7" fill="#1c4c7e"/>
<circle cx="523.5" cy="268.9" r="5.3" fill="none" stroke="#b4bfc8" stroke-width="1"/>
<circle cx="523.5" cy="268.9" r="4.7" fill="#1c4c7e"/>
<circle cx="500" cy="292.44" r="5.3" fill="none" stroke="#b4bfc8" stroke-width="1"/>
<circle cx="500" cy="292.44" r="4.7" fill="#1c4c7e"/>
<circle cx="523.5" cy="292.44" r="5.3" fill="none" stroke="#b4bfc8" stroke-width="1"/>
<circle cx="523.5" cy="292.44" r="4.7" fill="#1c4c7e"/>
<circle cx="500" cy="315.98" r="9.1" fill="#ffffff"/>
<path d="M490.9 315.98H509.1M500 306.88V325.08000000000004" stroke="#a1a1a3" stroke-width="1.5"/>
<circle cx="500" cy="315.98" r="4.7" fill="#1c4c7e"/>
<circle cx="523.5" cy="315.98" r="9.1" fill="#ffffff"/>
<path d="M514.4 315.98H532.6M523.5 306.88V325.08000000000004" stroke="#a1a1a3" stroke-width="1.5"/>
<circle cx="523.5" cy="315.98" r="4.7" fill="#1c4c7e"/>
<circle cx="500" cy="339.52" r="9.1" fill="#ffffff"/>
<path d="M490.9 339.52H509.1M500 330.41999999999996V348.62" stroke="#a1a1a3" stroke-width="1.5"/>
<circle cx="500" cy="339.52" r="4.7" fill="#1c4c7e"/>
<circle cx="523.5" cy="339.52" r="9.1" fill="#ffffff"/>
<circle cx="523.5" cy="339.52" r="4.7" fill="#1c4c7e"/>
<circle cx="500" cy="363.06" r="9.1" fill="#ffffff"/>
<path d="M490.9 363.06H509.1M500 353.96V372.16" stroke="#a1a1a3" stroke-width="1.5"/>
<circle cx="500" cy="363.06" r="4.7" fill="#1c4c7e"/>
<circle cx="523.5" cy="363.06" r="9.1" fill="#ffffff"/>
<circle cx="523.5" cy="363.06" r="4.7" fill="#1c4c7e"/>
<circle cx="500" cy="386.6" r="9.1" fill="#ffffff"/>
<path d="M490.9 386.6H509.1M500 377.5V395.70000000000005" stroke="#a1a1a3" stroke-width="1.5"/>
<circle cx="500" cy="386.6" r="4.7" fill="#1c4c7e"/>
<circle cx="523.5" cy="386.6" r="9.1" fill="#ffffff"/>
<circle cx="523.5" cy="386.6" r="4.7" fill="#1c4c7e"/>
<circle cx="500" cy="410.14" r="9.1" fill="#ffffff"/>
<path d="M490.9 410.14H509.1M500 401.03999999999996V419.24" stroke="#a1a1a3" stroke-width="1.5"/>
<circle cx="500" cy="410.14" r="4.7" fill="#1c4c7e"/>
<circle cx="523.5" cy="410.14" r="9.1" fill="#ffffff"/>
<circle cx="523.5" cy="410.14" r="4.7" fill="#1c4c7e"/>
<circle cx="500" cy="433.68" r="9.1" fill="#ffffff"/>
<path d="M490.9 433.68H509.1M500 424.58V442.78000000000003" stroke="#a1a1a3" stroke-width="1.5"/>
<circle cx="500" cy="433.68" r="4.7" fill="#1c4c7e"/>
<circle cx="523.5" cy="433.68" r="9.1" fill="#ffffff"/>
<path d="M514.4 433.68H532.6M523.5 424.58V442.78000000000003" stroke="#a1a1a3" stroke-width="1.5"/>
<circle cx="523.5" cy="433.68" r="4.7" fill="#1c4c7e"/>
<circle cx="500" cy="457.22" r="9.1" fill="#ffffff"/>
<path d="M490.9 457.22H509.1M500 448.12V466.32000000000005" stroke="#a1a1a3" stroke-width="1.5"/>
<circle cx="500" cy="457.22" r="4.7" fill="#1c4c7e"/>
<circle cx="523.5" cy="457.22" r="9.1" fill="#ffffff"/>
<circle cx="523.5" cy="457.22" r="4.7" fill="#1c4c7e"/>
<circle cx="500" cy="480.76" r="9.1" fill="#ffffff"/>
<path d="M490.9 480.76H509.1M500 471.65999999999997V489.86" stroke="#a1a1a3" stroke-width="1.5"/>
<circle cx="500" cy="480.76" r="4.7" fill="#1c4c7e"/>
<circle cx="523.5" cy="480.76" r="9.1" fill="#ffffff"/>
<circle cx="523.5" cy="480.76" r="4.7" fill="#1c4c7e"/>
<circle cx="500" cy="504.3" r="9.1" fill="#ffffff"/>
<path d="M490.9 504.3H509.1M500 495.2V513.4" stroke="#a1a1a3" stroke-width="1.5"/>
<circle cx="500" cy="504.3" r="4.7" fill="#1c4c7e"/>
<circle cx="523.5" cy="504.3" r="9.1" fill="#ffffff"/>
<circle cx="523.5" cy="504.3" r="4.7" fill="#1c4c7e"/>
<circle cx="500" cy="527.84" r="9.1" fill="#ffffff"/>
<path d="M490.9 527.84H509.1M500 518.74V536.94" stroke="#a1a1a3" stroke-width="1.5"/>
<circle cx="500" cy="527.84" r="4.7" fill="#1c4c7e"/>
<circle cx="523.5" cy="527.84" r="5.3" fill="none" stroke="#b4bfc8" stroke-width="1"/>
<circle cx="523.5" cy="527.84" r="4.7" fill="#1c4c7e"/>
<circle cx="500" cy="551.38" r="5.3" fill="none" stroke="#b4bfc8" stroke-width="1"/>
<circle cx="500" cy="551.38" r="4.7" fill="#1c4c7e"/>
<circle cx="523.5" cy="551.38" r="5.3" fill="none" stroke="#b4bfc8" stroke-width="1"/>
<circle cx="523.5" cy="551.38" r="4.7" fill="#1c4c7e"/>
<circle cx="500" cy="574.92" r="5.3" fill="none" stroke="#b4bfc8" stroke-width="1"/>
<circle cx="500" cy="574.92" r="4.7" fill="#1c4c7e"/>
<circle cx="523.5" cy="574.92" r="5.3" fill="none" stroke="#b4bfc8" stroke-width="1"/>
<circle cx="523.5" cy="574.92" r="4.7" fill="#1c4c7e"/>
<circle cx="500" cy="598.46" r="5.3" fill="none" stroke="#b4bfc8" stroke-width="1"/>
<circle cx="500" cy="598.46" r="4.7" fill="#1c4c7e"/>
<circle cx="523.5" cy="598.46" r="9.1" fill="#ffffff"/>
<circle cx="523.5" cy="598.46" r="4.7" fill="#1c4c7e"/>
<path d="M488.2 137H535V610.7H488.2Z" fill="none" stroke="#1b1b1b" stroke-width="1.8"/>
<path d="M539 139.7H543.6V201.5" fill="none" stroke="#1b1b1b" stroke-width="1.6"/>
<path d="M543.6 238.5V301H538.7" fill="none" stroke="#1b1b1b" stroke-width="1.6"/>
<path d="M535 444.5H555" fill="none" stroke="#1b1b1b" stroke-width="1.6"/>
<path d="M535 469H555" fill="none" stroke="#1b1b1b" stroke-width="1.6"/>
<path d="M535 492.4H555" fill="none" stroke="#1b1b1b" stroke-width="1.6"/>
<path d="M535 516.8H555" fill="none" stroke="#1b1b1b" stroke-width="1.6"/>
<path d="M535 540H555" fill="none" stroke="#1b1b1b" stroke-width="1.6"/>
<text x="524.9" y="625.5" font-family="Liberation Sans" font-size="12.6" font-weight="normal" fill="#1b1b1b" text-anchor="start" textLength="10.4" lengthAdjust="spacingAndGlyphs" stroke="#1b1b1b" stroke-width="0.69">J1</text>
<text x="213" y="111.4" font-family="Liberation Sans" font-size="19" font-weight="normal" fill="#1b1b1b" text-anchor="start" textLength="41" lengthAdjust="spacingAndGlyphs" transform="rotate(-90 213 111.4)" stroke="#1b1b1b" stroke-width="1.04">OUT2</text>
<rect x="217.4" y="74.8" width="95.7" height="25.0" rx="0" fill="#a1a1a3" stroke="#111" stroke-width="1.6"/>
<rect x="217.4" y="74.8" width="47.6" height="25.0" rx="0" fill="#232323"/>
<circle cx="277" cy="87.4" r="9.3" fill="#ffffff"/>
<circle cx="277" cy="87.4" r="4.7" fill="#1c4c7e"/>
<rect x="291.4" y="78.9" width="18.5" height="17.7" fill="#b9b9bb"/>
<rect x="292.7" y="80.2" width="15.9" height="15.1" fill="#6c6c6f" stroke="#ffffff" stroke-width="1.1"/>
<circle cx="300.5" cy="87.4" r="4.5" fill="#1c4c7e"/>
<rect x="299.3" y="99.8" width="7.4" height="2.8" rx="0" fill="#111"/>
<text x="265" y="113.7" font-family="Liberation Sans" font-size="12.8" font-weight="normal" fill="#1b1b1b" text-anchor="start" textLength="21.3" lengthAdjust="spacingAndGlyphs" stroke="#1b1b1b" stroke-width="0.7">J14</text>
<text x="220.6" y="129.4" font-family="Liberation Sans" font-size="10.2" font-weight="normal" fill="#1b1b1b" text-anchor="start" textLength="13.8" lengthAdjust="spacingAndGlyphs" stroke="#1b1b1b" stroke-width="0.56">J11</text>
<text x="256.7" y="129.4" font-family="Liberation Sans" font-size="10.2" font-weight="normal" fill="#1b1b1b" text-anchor="start" textLength="16.1" lengthAdjust="spacingAndGlyphs" stroke="#1b1b1b" stroke-width="0.56">J10</text>
<circle cx="279.8" cy="128.5" r="2" fill="#1b1b1b"/>
<text x="287.2" y="129.4" font-family="Liberation Sans" font-size="10.2" font-weight="normal" fill="#1b1b1b" text-anchor="start" textLength="10.2" lengthAdjust="spacingAndGlyphs" stroke="#1b1b1b" stroke-width="0.56">J4</text>
<rect x="220.2" y="132.8" width="25.1" height="71.4" rx="0" fill="#232323"/>
<rect x="220.2" y="132.8" width="25.1" height="23.5" rx="0" fill="#a1a1a3" stroke="#111" stroke-width="1.4"/>
<rect x="222.3" y="135.5" width="21.3" height="19.5" fill="#b9b9bb"/>
<rect x="223.60000000000002" y="136.8" width="18.7" height="16.9" fill="#6c6c6f" stroke="#ffffff" stroke-width="1.1"/>
<circle cx="232.7" cy="144.6" r="4.5" fill="#1c4c7e"/>
<rect x="248.1" y="132.8" width="25.4" height="71.4" rx="0" fill="#a1a1a3" stroke="#111" stroke-width="1.4"/>
<rect x="248.1" y="132.8" width="25.4" height="47.8" rx="0" fill="#232323"/>
<circle cx="261" cy="191.6" r="9.4" fill="#ffffff"/>
<path d="M251.6 191.6H270.4M261 182.2V201.0" stroke="#a1a1a3" stroke-width="1.5"/>
<circle cx="261" cy="191.6" r="4.7" fill="#1c4c7e"/>
<rect x="278.2" y="132.8" width="25.5" height="47.8" rx="0" fill="#232323"/>
<text x="275" y="194" font-family="Liberation Sans" font-size="13" font-weight="normal" fill="#1b1b1b" text-anchor="start" textLength="31" lengthAdjust="spacingAndGlyphs" stroke="#1b1b1b" stroke-width="0.71">VDD2</text>
<text x="221.3" y="217.5" font-family="Liberation Sans" font-size="13" font-weight="normal" fill="#1b1b1b" text-anchor="start" textLength="22.4" lengthAdjust="spacingAndGlyphs" stroke="#1b1b1b" stroke-width="0.71">AD1</text>
<text x="248.4" y="217.5" font-family="Liberation Sans" font-size="13" font-weight="normal" fill="#1b1b1b" text-anchor="start" textLength="25.1" lengthAdjust="spacingAndGlyphs" stroke="#1b1b1b" stroke-width="0.71">AD0</text>
<path d="M242 251A20.8 20.8 0 1 0 242 292.6" fill="none" stroke="#1b1b1b" stroke-width="4.3"/>
<path d="M281.8 251A20.8 20.8 0 1 0 281.8 292.6M262 271.8H276.7" fill="none" stroke="#1b1b1b" stroke-width="4.3"/>
<path d="M359.4 186.8V130Q359.4 125 364.4 125H380.5Q385.5 125 385.5 130V186.8ZM394.1 186.8V130Q394.1 125 399.1 125H414.7Q419.7 125 419.7 130V186.8Z" fill="none" stroke="#ffffff" stroke-width="1.8"/>
<rect x="323.4" y="100.4" width="97.3" height="64.4" rx="0" fill="none" stroke="#111" stroke-width="1.7"/>
<circle cx="339.5" cy="133.5" r="9.8" fill="#ffffff"/>
<circle cx="339.5" cy="133.5" r="5.5" fill="#1c4c7e"/>
<circle cx="372.2" cy="133.5" r="5.5" fill="#1c4c7e"/>
<rect x="396.7" y="125.5" width="16" height="16" rx="3" fill="#6c6c6f" stroke="#8a8a8c" stroke-width="1.2"/>
<circle cx="404.7" cy="133.5" r="5.5" fill="#1c4c7e"/>
<rect x="403" y="165.3" width="13.5" height="5.9" rx="0" fill="#111"/>
<text x="424.5" y="116" font-family="Liberation Sans" font-size="19.5" font-weight="normal" fill="#1b1b1b" text-anchor="start" textLength="50" lengthAdjust="spacingAndGlyphs" stroke="#1b1b1b" stroke-width="1.07">OUT2</text>
<rect x="423.5" y="130" width="19.5" height="8" rx="0" fill="none" stroke="#ffffff" stroke-width="1.3"/>
<rect x="425" y="131.4" width="6.2" height="5.3" rx="0" fill="#6c6c6f"/>
<rect x="434.3" y="131.4" width="6.7" height="5.3" rx="0" fill="#6c6c6f"/>
<text x="443.4" y="137.2" font-family="Liberation Sans" font-size="9" font-weight="normal" fill="#1b1b1b" text-anchor="start" textLength="12.3" lengthAdjust="spacingAndGlyphs" stroke="#1b1b1b" stroke-width="0.49">R4</text>
<text x="425" y="165" font-family="Liberation Sans" font-size="12.7" font-weight="normal" fill="#1b1b1b" text-anchor="start" textLength="14.8" lengthAdjust="spacingAndGlyphs" stroke="#1b1b1b" stroke-width="0.7">J5</text>
<rect x="422" y="177.9" width="8.6" height="8.6" rx="0" fill="#6c6c6f"/>
<text x="434" y="185.8" font-family="Liberation Sans" font-size="12.7" font-weight="normal" fill="#1b1b1b" text-anchor="start" textLength="26" lengthAdjust="spacingAndGlyphs" stroke="#1b1b1b" stroke-width="0.7">C25</text>
<rect x="312.7" y="167.5" width="6.9" height="7.5" rx="0" fill="#6c6c6f" stroke="#ffffff" stroke-width="1.3"/>
<rect x="312.7" y="176.6" width="6.9" height="7.5" rx="0" fill="#6c6c6f" stroke="#ffffff" stroke-width="1.3"/>
<rect x="322.2" y="167.5" width="6.9" height="7.5" rx="0" fill="#6c6c6f" stroke="#ffffff" stroke-width="1.3"/>
<rect x="322.2" y="176.6" width="6.9" height="7.5" rx="0" fill="#6c6c6f" stroke="#ffffff" stroke-width="1.3"/>
<rect x="331.7" y="167.5" width="6.9" height="7.5" rx="0" fill="#6c6c6f" stroke="#ffffff" stroke-width="1.3"/>
<rect x="331.7" y="176.6" width="6.9" height="7.5" rx="0" fill="#6c6c6f" stroke="#ffffff" stroke-width="1.3"/>
<rect x="340.5" y="167.4" width="7.5" height="7.2" rx="0" fill="#6c6c6f" stroke="#ffffff" stroke-width="1.3"/>
<rect x="349.9" y="167.4" width="7.5" height="7.2" rx="0" fill="#6c6c6f" stroke="#ffffff" stroke-width="1.3"/>
<path d="M312.7 165A3.3 3.3 0 0 1 319.3 165" fill="none" stroke="#ffffff" stroke-width="1.4"/>
<path d="M322.3 165A3.3 3.3 0 0 1 328.90000000000003 165" fill="none" stroke="#ffffff" stroke-width="1.4"/>
<path d="M331.3 165A3.3 3.3 0 0 1 337.90000000000003 165" fill="none" stroke="#ffffff" stroke-width="1.4"/>
<path d="M340.4 165A3.3 3.3 0 0 1 347.0 165" fill="none" stroke="#ffffff" stroke-width="1.4"/>
<path d="M349.2 165A3.3 3.3 0 0 1 355.8 165" fill="none" stroke="#ffffff" stroke-width="1.4"/>
<text x="359" y="173" font-family="Liberation Sans" font-size="8" font-weight="normal" fill="#1b1b1b" text-anchor="start" textLength="8" lengthAdjust="spacingAndGlyphs" stroke="#1b1b1b" stroke-width="0.44">R5</text>
<text x="319.4" y="203" font-family="Liberation Sans" font-size="10.5" font-weight="normal" fill="#1b1b1b" text-anchor="start" textLength="16.6" lengthAdjust="spacingAndGlyphs" transform="rotate(-90 319.4 203)" stroke="#1b1b1b" stroke-width="0.58">R15</text>
<text x="329" y="203" font-family="Liberation Sans" font-size="10.5" font-weight="normal" fill="#1b1b1b" text-anchor="start" textLength="16.6" lengthAdjust="spacingAndGlyphs" transform="rotate(-90 329 203)" stroke="#1b1b1b" stroke-width="0.58">R18</text>
<text x="338.6" y="203" font-family="Liberation Sans" font-size="10.5" font-weight="normal" fill="#1b1b1b" text-anchor="start" textLength="16.6" lengthAdjust="spacingAndGlyphs" transform="rotate(-90 338.6 203)" stroke="#1b1b1b" stroke-width="0.58">R14</text>
<rect x="348" y="178.2" width="9" height="8.6" rx="0" fill="#6c6c6f"/>
<rect x="361.6" y="178.2" width="8.6" height="8.6" rx="0" fill="#6c6c6f"/>
<rect x="371.9" y="178.2" width="11.9" height="8.6" rx="0" fill="#6c6c6f"/>
<rect x="395.8" y="178.2" width="11.1" height="8.6" rx="0" fill="#6c6c6f"/>
<rect x="408.6" y="178.2" width="9.4" height="8.6" rx="0" fill="#6c6c6f"/>
<rect x="422.3" y="178.2" width="8.6" height="8.6" rx="0" fill="#6c6c6f"/>
<path d="M360.8 180V184" fill="none" stroke="#1b1b1b" stroke-width="1.3"/>
<path d="M419.7 180V184" fill="none" stroke="#1b1b1b" stroke-width="1.3"/>
<path d="M371 190V194" fill="none" stroke="#1b1b1b" stroke-width="1.3"/>
<path d="M385 190V194" fill="none" stroke="#1b1b1b" stroke-width="1.3"/>
<path d="M394 190V194" fill="none" stroke="#1b1b1b" stroke-width="1.3"/>
<path d="M407.8 190V194" fill="none" stroke="#1b1b1b" stroke-width="1.3"/>
<text x="347.9" y="196.6" font-family="Liberation Sans" font-size="10.5" font-weight="normal" fill="#1b1b1b" text-anchor="start" textLength="19.3" lengthAdjust="spacingAndGlyphs" stroke="#1b1b1b" stroke-width="0.58">C26</text>
<rect x="371.9" y="195.3" width="11.9" height="11.1" rx="0" fill="#6c6c6f"/>
<rect x="391.5" y="193" width="20.5" height="19" rx="4" fill="none" stroke="#ffffff" stroke-width="1.3"/>
<rect x="395.8" y="195.3" width="14.5" height="11.1" rx="0" fill="#6c6c6f"/>
<text x="372.4" y="215" font-family="Liberation Sans" font-size="10.5" font-weight="normal" fill="#1b1b1b" text-anchor="start" textLength="12.3" lengthAdjust="spacingAndGlyphs" stroke="#1b1b1b" stroke-width="0.58">R2</text>
<text x="396.7" y="215" font-family="Liberation Sans" font-size="10.5" font-weight="normal" fill="#1b1b1b" text-anchor="start" textLength="9.3" lengthAdjust="spacingAndGlyphs" stroke="#1b1b1b" stroke-width="0.58">R1</text>
<rect x="372.7" y="216.2" width="17.1" height="5.5" rx="2.5" fill="none" stroke="#ffffff" stroke-width="1.2"/>
<circle cx="425" cy="225.4" r="15.5" fill="#ffffff" stroke="#111" stroke-width="1.8"/>
<circle cx="425" cy="225.4" r="13.4" fill="none" stroke="#a1a1a3" stroke-width="2"/>
<circle cx="425" cy="225.4" r="7.6" fill="#1c4c7e"/>
<text x="412" y="261.9" font-family="Liberation Sans" font-size="21.2" font-weight="normal" fill="#1b1b1b" text-anchor="start" textLength="62" lengthAdjust="spacingAndGlyphs" stroke="#1b1b1b" stroke-width="1.17">PVDD2</text>
<rect x="322.2" y="212" width="8.6" height="8.5" rx="0" fill="#6c6c6f"/>
<rect x="333" y="219.4" width="5.7" height="6.3" rx="0" fill="#6c6c6f"/>
<text x="333" y="216" font-family="Liberation Sans" font-size="10" font-weight="normal" fill="#1b1b1b" text-anchor="start" textLength="13.2" lengthAdjust="spacingAndGlyphs" stroke="#1b1b1b" stroke-width="0.55">C5</text>
<text x="307.4" y="222.2" font-family="Liberation Sans" font-size="10" font-weight="normal" fill="#1b1b1b" text-anchor="start" textLength="13.6" lengthAdjust="spacingAndGlyphs" stroke="#1b1b1b" stroke-width="0.55">C4</text>
<rect x="298" y="228" width="8.5" height="8" rx="0" fill="#6c6c6f"/>
<rect x="312.4" y="228" width="8.0" height="8" rx="0" fill="#6c6c6f"/>
<rect x="322.9" y="225" width="7.0" height="8" rx="0" fill="#6c6c6f"/>
<rect x="333.4" y="228.5" width="5.5" height="6.0" rx="0" fill="#6c6c6f"/>
<path d="M309.5 229V231M309.5 233V235" fill="none" stroke="#1b1b1b" stroke-width="1.2"/>
<text x="281" y="236" font-family="Liberation Sans" font-size="14" font-weight="normal" fill="#1b1b1b" text-anchor="start" textLength="16" lengthAdjust="spacingAndGlyphs" stroke="#1b1b1b" stroke-width="0.77">C9</text>
<rect x="304.5" y="239" width="6.5" height="5.4" rx="0" fill="#6c6c6f"/>
<rect x="313.4" y="239" width="6.6" height="5.4" rx="0" fill="#6c6c6f"/>
<text x="282" y="244.5" font-family="Liberation Sans" font-size="10" font-weight="normal" fill="#1b1b1b" text-anchor="start" textLength="13" lengthAdjust="spacingAndGlyphs" stroke="#1b1b1b" stroke-width="0.55">C8</text>
<text x="336.9" y="254.8" font-family="Liberation Sans" font-size="13" font-weight="normal" fill="#1b1b1b" text-anchor="start" textLength="15.9" lengthAdjust="spacingAndGlyphs" transform="rotate(-90 336.9 254.8)" stroke="#1b1b1b" stroke-width="0.71">U2</text>
<circle cx="342.9" cy="240" r="1.3" fill="#707072"/>
<circle cx="346.8" cy="240" r="1.3" fill="#707072"/>
<circle cx="350.8" cy="240" r="1.3" fill="#707072"/>
<circle cx="354.8" cy="240" r="1.3" fill="#707072"/>
<circle cx="342.9" cy="243.9" r="1.3" fill="#707072"/>
<circle cx="346.8" cy="243.9" r="1.3" fill="#707072"/>
<circle cx="350.8" cy="243.9" r="1.3" fill="#707072"/>
<circle cx="354.8" cy="243.9" r="1.3" fill="#707072"/>
<circle cx="342.9" cy="247.9" r="1.3" fill="#707072"/>
<circle cx="346.8" cy="247.9" r="1.3" fill="#707072"/>
<circle cx="350.8" cy="247.9" r="1.3" fill="#707072"/>
<circle cx="354.8" cy="247.9" r="1.3" fill="#707072"/>
<circle cx="342.9" cy="251.4" r="1.3" fill="#707072"/>
<circle cx="346.8" cy="251.4" r="1.3" fill="#707072"/>
<circle cx="350.8" cy="251.4" r="1.3" fill="#707072"/>
<circle cx="354.8" cy="251.4" r="1.3" fill="#707072"/>
<circle cx="342.9" cy="254.9" r="1.3" fill="#707072"/>
<circle cx="346.8" cy="254.9" r="1.3" fill="#707072"/>
<circle cx="350.8" cy="254.9" r="1.3" fill="#707072"/>
<circle cx="354.8" cy="254.9" r="1.3" fill="#707072"/>
<circle cx="342.9" cy="258.9" r="1.3" fill="#707072"/>
<circle cx="346.8" cy="258.9" r="1.3" fill="#707072"/>
<circle cx="350.8" cy="258.9" r="1.3" fill="#707072"/>
<circle cx="354.8" cy="258.9" r="1.3" fill="#707072"/>
<circle cx="338.9" cy="258.9" r="1.3" fill="#707072"/>
<circle cx="334" cy="259" r="1.8" fill="#1b1b1b"/>
<rect x="326.9" y="263.4" width="7.0" height="6.4" rx="0" fill="#6c6c6f"/>
<rect x="335.9" y="263.4" width="7.0" height="6.4" rx="0" fill="#6c6c6f"/>
<text x="312" y="269.8" font-family="Liberation Sans" font-size="10.5" font-weight="normal" fill="#1b1b1b" text-anchor="start" textLength="13.5" lengthAdjust="spacingAndGlyphs" stroke="#1b1b1b" stroke-width="0.58">C3</text>
<rect x="316.1" y="271.1" width="6.9" height="18.1" rx="0" fill="#6c6c6f"/>
<rect x="316.1" y="290" width="6.9" height="16.8" rx="0" fill="#6c6c6f"/>
<rect x="332.3" y="271.1" width="7.0" height="18.1" rx="0" fill="#6c6c6f"/>
<rect x="332.3" y="290" width="7.0" height="16.8" rx="0" fill="#6c6c6f"/>
<text x="294.8" y="282.7" font-family="Liberation Sans" font-size="11.5" font-weight="normal" fill="#1b1b1b" text-anchor="start" textLength="13" lengthAdjust="spacingAndGlyphs" stroke="#1b1b1b" stroke-width="0.63">C2</text>
<text x="294.8" y="298.9" font-family="Liberation Sans" font-size="11.5" font-weight="normal" fill="#1b1b1b" text-anchor="start" textLength="11.5" lengthAdjust="spacingAndGlyphs" stroke="#1b1b1b" stroke-width="0.63">C1</text>
<rect x="368.8" y="223.5" width="6.0" height="5.5" rx="0" fill="#6c6c6f"/>
<rect x="377.7" y="223.5" width="6.0" height="5.5" rx="0" fill="#6c6c6f"/>
<text x="384.7" y="229" font-family="Liberation Sans" font-size="10.5" font-weight="normal" fill="#1b1b1b" text-anchor="start" textLength="18" lengthAdjust="spacingAndGlyphs" stroke="#1b1b1b" stroke-width="0.58">C12</text>
<rect x="371.2" y="232" width="7.6" height="20" rx="0" fill="#6c6c6f"/>
<rect x="371.2" y="253.5" width="7.6" height="13.0" rx="0" fill="#6c6c6f"/>
<rect x="387.7" y="232" width="7.0" height="20" rx="0" fill="#6c6c6f"/>
<rect x="387.7" y="253.5" width="7.0" height="13.0" rx="0" fill="#6c6c6f"/>
<rect x="371.8" y="268.8" width="7.0" height="6.0" rx="0" fill="#6c6c6f"/>
<rect x="382.7" y="268.8" width="6.6" height="6.0" rx="0" fill="#6c6c6f"/>
<text x="405.3" y="247.9" font-family="Liberation Sans" font-size="10.5" font-weight="normal" fill="#1b1b1b" text-anchor="start" textLength="15.9" lengthAdjust="spacingAndGlyphs" transform="rotate(-90 405.3 247.9)" stroke="#1b1b1b" stroke-width="0.58">C10</text>
<text x="405.3" y="264.8" font-family="Liberation Sans" font-size="10.5" font-weight="normal" fill="#1b1b1b" text-anchor="start" textLength="12.5" lengthAdjust="spacingAndGlyphs" transform="rotate(-90 405.3 264.8)" stroke="#1b1b1b" stroke-width="0.58">C6</text>
<text x="392.7" y="276.8" font-family="Liberation Sans" font-size="10.5" font-weight="normal" fill="#1b1b1b" text-anchor="start" textLength="13" lengthAdjust="spacingAndGlyphs" stroke="#1b1b1b" stroke-width="0.58">C7</text>
<text x="362" y="233" font-family="Liberation Sans" font-size="11" font-weight="normal" fill="#1b1b1b" text-anchor="start" stroke="#1b1b1b" stroke-width="0.6">+</text>
<text x="360" y="273" font-family="Liberation Sans" font-size="11" font-weight="normal" fill="#1b1b1b" text-anchor="start" stroke="#1b1b1b" stroke-width="0.6">+</text>
<text x="344" y="262" font-family="Liberation Sans" font-size="10" font-weight="normal" fill="#1b1b1b" text-anchor="start" stroke="#1b1b1b" stroke-width="0.55">+</text>
<rect x="392" y="277.5" width="23" height="24.5" rx="0" fill="none" stroke="#ffffff" stroke-width="1.2"/>
<rect x="393.3" y="278.8" width="8.4" height="9.0" rx="0" fill="#6c6c6f"/>
<rect x="393.3" y="291.7" width="8.4" height="9.0" rx="0" fill="#6c6c6f"/>
<rect x="405.3" y="278.8" width="8.4" height="9.0" rx="0" fill="#6c6c6f"/>
<rect x="405.3" y="291.7" width="8.4" height="9.0" rx="0" fill="#6c6c6f"/>
<text x="427.6" y="301.7" font-family="Liberation Sans" font-size="13" font-weight="normal" fill="#1b1b1b" text-anchor="start" textLength="24.9" lengthAdjust="spacingAndGlyphs" transform="rotate(-90 427.6 301.7)" stroke="#1b1b1b" stroke-width="0.71">R20</text>
<text x="400.7" y="322.7" font-family="Liberation Sans" font-size="10" font-weight="normal" fill="#1b1b1b" text-anchor="start" textLength="19" lengthAdjust="spacingAndGlyphs" transform="rotate(-90 400.7 322.7)" stroke="#1b1b1b" stroke-width="0.55">C23</text>
<path d="M350.7 292.6H381V275.5H383.6V286.7H389.6V288.4H383.6V305H389.6V307.6H358.4L350.7 301.5Z" fill="#ffffff"/>
<path d="M362.5 268H366.5L372.5 275.2H390V277.6H369.8Z" fill="#ffffff"/>
<rect x="383.6" y="288.4" width="6.0" height="16.6" rx="0" fill="#b3b3b5"/>
<rect x="352.8" y="278.5" width="6.4" height="14.1" rx="0" fill="#b0b0b2"/>
<rect x="359.2" y="278.1" width="21.4" height="14.5" rx="0" fill="#6c6c6f"/>
<rect x="359.2" y="308.5" width="21.4" height="15.3" rx="0" fill="#6c6c6f"/>
<path d="M355.8 278.5H349V323H355.8" fill="none" stroke="#1b1b1b" stroke-width="1.6"/>
<path d="M384 278.5H390.4V323H384" fill="none" stroke="#1b1b1b" stroke-width="1.6"/>
<text x="337.9" y="322.7" font-family="Liberation Sans" font-size="10.5" font-weight="normal" fill="#1b1b1b" text-anchor="start" textLength="9" lengthAdjust="spacingAndGlyphs" stroke="#1b1b1b" stroke-width="0.58">L1</text>
<text x="339" y="310" font-family="Liberation Sans" font-size="10" font-weight="normal" fill="#1b1b1b" text-anchor="start" stroke="#1b1b1b" stroke-width="0.55">+</text>
<text x="402.8" y="364.6" font-family="Liberation Sans" font-size="14.5" font-weight="normal" fill="#1b1b1b" text-anchor="start" textLength="39.2" lengthAdjust="spacingAndGlyphs" transform="rotate(-90 402.8 364.6)" stroke="#1b1b1b" stroke-width="0.8">VBAT2</text>
<text x="402.8" y="420" font-family="Liberation Sans" font-size="14.5" font-weight="normal" fill="#1b1b1b" text-anchor="start" textLength="45.7" lengthAdjust="spacingAndGlyphs" transform="rotate(-90 402.8 420)" stroke="#1b1b1b" stroke-width="0.8">VBAT1</text>
<rect x="405.7" y="309.2" width="49.1" height="52.0" rx="0" fill="#232323"/>
<path d="M409 336H451" fill="none" stroke="#ffffff" stroke-width="1.2"/>
<rect x="439.2" y="361.2" width="8.5" height="3.0" rx="0" fill="#111"/>
<rect x="405.7" y="369" width="49.1" height="52" rx="0" fill="#232323"/>
<path d="M409 395.9H451" fill="none" stroke="#ffffff" stroke-width="1.2"/>
<rect x="439.2" y="421" width="8.5" height="3" rx="0" fill="#111"/>
<text x="440.6" y="305.4" font-family="Liberation Sans" font-size="13" font-weight="normal" fill="#1b1b1b" text-anchor="start" textLength="14.2" lengthAdjust="spacingAndGlyphs" stroke="#1b1b1b" stroke-width="0.71">J3</text>
<text x="407" y="436" font-family="Liberation Sans" font-size="13" font-weight="normal" fill="#1b1b1b" text-anchor="start" textLength="14.2" lengthAdjust="spacingAndGlyphs" stroke="#1b1b1b" stroke-width="0.71">J6</text>
<rect x="279" y="337" width="47" height="24.2" rx="3" fill="#a1a1a3" stroke="#111" stroke-width="1.6"/>
<rect x="280.7" y="339.1" width="20.0" height="20.0" fill="#b9b9bb"/>
<rect x="282.0" y="340.40000000000003" width="17.4" height="17.4" fill="#6c6c6f" stroke="#ffffff" stroke-width="1.1"/>
<circle cx="290.7" cy="349.1" r="4.5" fill="#1c4c7e"/>
<circle cx="314" cy="349.3" r="9.4" fill="#ffffff"/>
<circle cx="314" cy="349.3" r="4.7" fill="#1c4c7e"/>
<rect x="279" y="371.2" width="47" height="24.2" rx="3" fill="#a1a1a3" stroke="#111" stroke-width="1.6"/>
<rect x="280.7" y="373.3" width="20.0" height="20.0" fill="#b9b9bb"/>
<rect x="282.0" y="374.6" width="17.4" height="17.4" fill="#6c6c6f" stroke="#ffffff" stroke-width="1.1"/>
<circle cx="290.7" cy="383.3" r="4.5" fill="#1c4c7e"/>
<circle cx="314" cy="383.5" r="9.4" fill="#ffffff"/>
<circle cx="314" cy="383.5" r="4.7" fill="#1c4c7e"/>
<text x="295" y="334.6" font-family="Liberation Sans" font-size="11" font-weight="normal" fill="#1b1b1b" text-anchor="start" textLength="16" lengthAdjust="spacingAndGlyphs" stroke="#1b1b1b" stroke-width="0.6">J16</text>
<text x="276" y="405" font-family="Liberation Sans" font-size="11" font-weight="normal" fill="#1b1b1b" text-anchor="start" textLength="17" lengthAdjust="spacingAndGlyphs" stroke="#1b1b1b" stroke-width="0.6">J17</text>
<circle cx="274.8" cy="361" r="1.9" fill="#1b1b1b"/><circle cx="274.8" cy="394.4" r="1.9" fill="#1b1b1b"/>
<text x="230.6" y="362.7" font-family="Liberation Sans" font-size="12" font-weight="normal" fill="#1b1b1b" text-anchor="start" textLength="17.1" lengthAdjust="spacingAndGlyphs" stroke="#1b1b1b" stroke-width="0.66">U3</text>
<rect x="227.4" y="366.4" width="5.0" height="17.6" rx="0" fill="#6c6c6f" stroke="#ffffff" stroke-width="1.3"/>
<rect x="233.1" y="366.4" width="5.0" height="17.6" rx="0" fill="#6c6c6f" stroke="#ffffff" stroke-width="1.3"/>
<rect x="238.8" y="366.4" width="5.0" height="17.6" rx="0" fill="#6c6c6f" stroke="#ffffff" stroke-width="1.3"/>
<rect x="244.8" y="366.4" width="5.0" height="17.6" rx="0" fill="#6c6c6f" stroke="#ffffff" stroke-width="1.3"/>
<circle cx="254.6" cy="374.8" r="2" fill="#1b1b1b"/>
<rect x="223.9" y="386.2" width="29.5" height="30.0" rx="0" fill="none" stroke="#111" stroke-width="1.6"/>
<rect x="227.4" y="419.2" width="5.0" height="17.1" rx="0" fill="#6c6c6f" stroke="#ffffff" stroke-width="1.3"/>
<rect x="233.1" y="419.2" width="5.0" height="17.1" rx="0" fill="#6c6c6f" stroke="#ffffff" stroke-width="1.3"/>
<rect x="238.8" y="419.2" width="5.0" height="17.1" rx="0" fill="#6c6c6f" stroke="#ffffff" stroke-width="1.3"/>
<rect x="244.8" y="419.2" width="5.0" height="17.1" rx="0" fill="#6c6c6f" stroke="#ffffff" stroke-width="1.3"/>
<path d="M256.2 431V434" fill="none" stroke="#ffffff" stroke-width="1.5"/>
<rect x="252.4" y="424.79999999999995" width="7.9" height="6.5" rx="0" fill="#6c6c6f" stroke="#ffffff" stroke-width="1.3"/>
<rect x="261.7" y="424.79999999999995" width="7.9" height="6.5" rx="0" fill="#6c6c6f" stroke="#ffffff" stroke-width="1.3"/>
<text x="267" y="422.5" font-family="Liberation Sans" font-size="13" font-weight="normal" fill="#1b1b1b" text-anchor="start" textLength="16.5" lengthAdjust="spacingAndGlyphs" transform="rotate(-90 267 422.5)" stroke="#1b1b1b" stroke-width="0.71">C11</text>
<rect x="228.6" y="438.4" width="7.8" height="6.6" rx="0" fill="#6c6c6f" stroke="#ffffff" stroke-width="1.3"/>
<rect x="238.70000000000002" y="438.4" width="7.9" height="6.6" rx="0" fill="#6c6c6f" stroke="#ffffff" stroke-width="1.3"/>
<text x="215" y="446" font-family="Liberation Sans" font-size="10.5" font-weight="normal" fill="#1b1b1b" text-anchor="start" textLength="12" lengthAdjust="spacingAndGlyphs" stroke="#1b1b1b" stroke-width="0.58">R3</text>
<text x="223.8" y="463" font-family="Liberation Sans" font-size="12.3" font-weight="normal" fill="#1b1b1b" text-anchor="start" textLength="17.7" lengthAdjust="spacingAndGlyphs" stroke="#1b1b1b" stroke-width="0.68">WP</text>
<circle cx="220.8" cy="462.2" r="1.4" fill="#1b1b1b"/>
<rect x="220" y="467" width="26" height="48" rx="0" fill="#232323"/>
<text x="248.6" y="513" font-family="Liberation Sans" font-size="12.5" font-weight="normal" fill="#1b1b1b" text-anchor="start" textLength="14.4" lengthAdjust="spacingAndGlyphs" stroke="#1b1b1b" stroke-width="0.69">J9</text>
<path d="M154.9 423.5A3.6 3.6 0 0 1 162.1 423.5" fill="none" stroke="#ffffff" stroke-width="1.6"/>
<rect x="153.70000000000002" y="423.59999999999997" width="9.7" height="9.3" rx="0" fill="#6c6c6f" stroke="#ffffff" stroke-width="1.3"/>
<rect x="153.70000000000002" y="436.5" width="9.7" height="9.3" rx="0" fill="#6c6c6f" stroke="#ffffff" stroke-width="1.3"/>
<circle cx="155.2" cy="435.2" r="0.9" fill="#1b1b1b"/><circle cx="161.7" cy="435.2" r="0.9" fill="#1b1b1b"/>
<text x="163.4" y="465.4" font-family="Liberation Sans" font-size="12" font-weight="normal" fill="#1b1b1b" text-anchor="start" textLength="19.4" lengthAdjust="spacingAndGlyphs" transform="rotate(-90 163.4 465.4)" stroke="#1b1b1b" stroke-width="0.66">R7</text>
<circle cx="273.4" cy="450.1" r="15.6" fill="#a1a1a3" stroke="#111" stroke-width="1.8"/>
<circle cx="273.4" cy="450.1" r="12.2" fill="#ffffff"/>
<circle cx="273.4" cy="450.1" r="7.3" fill="#1c4c7e"/>
<text x="250.2" y="482.8" font-family="Liberation Sans" font-size="17" font-weight="normal" fill="#1b1b1b" text-anchor="start" textLength="47" lengthAdjust="spacingAndGlyphs" stroke="#1b1b1b" stroke-width="0.94">PVDD1</text>
<path d="M315.4 408H317.1V423.1H339.7L347.3 430.5V438.5H345.5V453.4H347.3V438.5H315.4V453.4H317.1V438.5H315.4Z" fill="#ffffff"/>
<rect x="345.5" y="438.5" width="2.0" height="14.9" rx="0" fill="#ffffff"/>
<rect x="315.4" y="438.5" width="1.7" height="14.9" rx="0" fill="#ffffff"/>
<rect x="308.5" y="409" width="6.9" height="29" rx="0" fill="#afafb1"/>
<rect x="338.9" y="438.5" width="6.6" height="14.9" rx="0" fill="#afafb1"/>
<path d="M338.9 408.1H347.3V430.5L339.7 423.1H338.9Z" fill="#afafb1"/>
<rect x="317.1" y="408.1" width="21.8" height="15.0" rx="0" fill="#6c6c6f"/>
<rect x="317.1" y="438.5" width="21.8" height="14.9" rx="0" fill="#6c6c6f"/>
<path d="M314.1 408.5H307.3V452.6H314.1" fill="none" stroke="#1b1b1b" stroke-width="1.6"/>
<path d="M342.3 408.5H348.7V452.6H342.3" fill="none" stroke="#1b1b1b" stroke-width="1.6"/>
<text x="352" y="414.8" font-family="Liberation Sans" font-size="10" font-weight="normal" fill="#1b1b1b" text-anchor="start" textLength="10" lengthAdjust="spacingAndGlyphs" stroke="#1b1b1b" stroke-width="0.55">L2</text>
<text x="351" y="425" font-family="Liberation Sans" font-size="11" font-weight="normal" fill="#1b1b1b" text-anchor="start" stroke="#1b1b1b" stroke-width="0.6">+</text>
<text x="345" y="463" font-family="Liberation Sans" font-size="11" font-weight="normal" fill="#1b1b1b" text-anchor="start" stroke="#1b1b1b" stroke-width="0.6">+</text>
<rect x="296.0" y="400.2" width="9.5" height="9.0" rx="0" fill="#6c6c6f" stroke="#ffffff" stroke-width="1.3"/>
<rect x="296.0" y="411.79999999999995" width="9.5" height="9.2" rx="0" fill="#6c6c6f" stroke="#ffffff" stroke-width="1.3"/>
<rect x="296.0" y="423.79999999999995" width="9.5" height="9.2" rx="0" fill="#6c6c6f" stroke="#ffffff" stroke-width="1.3"/>
<rect x="296.0" y="435.79999999999995" width="9.5" height="9.6" rx="0" fill="#6c6c6f" stroke="#ffffff" stroke-width="1.3"/>
<text x="293.3" y="423.3" font-family="Liberation Sans" font-size="10.5" font-weight="normal" fill="#1b1b1b" text-anchor="start" textLength="17.1" lengthAdjust="spacingAndGlyphs" transform="rotate(-90 293.3 423.3)" stroke="#1b1b1b" stroke-width="0.58">R21</text>
<text x="301.4" y="466.1" font-family="Liberation Sans" font-size="10.5" font-weight="normal" fill="#1b1b1b" text-anchor="start" textLength="18" lengthAdjust="spacingAndGlyphs" transform="rotate(-90 301.4 466.1)" stroke="#1b1b1b" stroke-width="0.58">C29</text>
<rect x="359" y="424.2" width="6.5" height="16.8" rx="0" fill="#6c6c6f"/>
<rect x="359" y="443" width="6.5" height="16.2" rx="0" fill="#6c6c6f"/>
<rect x="375.4" y="424.2" width="6.3" height="16.8" rx="0" fill="#6c6c6f"/>
<rect x="375.4" y="443" width="6.3" height="16.2" rx="0" fill="#6c6c6f"/>
<text x="384" y="436.2" font-family="Liberation Sans" font-size="13.5" font-weight="normal" fill="#1b1b1b" text-anchor="start" textLength="19" lengthAdjust="spacingAndGlyphs" stroke="#1b1b1b" stroke-width="0.74">C13</text>
<text x="384" y="455.5" font-family="Liberation Sans" font-size="13.5" font-weight="normal" fill="#1b1b1b" text-anchor="start" textLength="18" lengthAdjust="spacingAndGlyphs" stroke="#1b1b1b" stroke-width="0.74">C14</text>
<text x="328" y="460.5" font-family="Liberation Sans" font-size="7.5" font-weight="normal" fill="#1b1b1b" text-anchor="start" textLength="11" lengthAdjust="spacingAndGlyphs" stroke="#1b1b1b" stroke-width="0.41">C19</text>
<text x="332" y="467.5" font-family="Liberation Sans" font-size="7.5" font-weight="normal" fill="#1b1b1b" text-anchor="start" textLength="12" lengthAdjust="spacingAndGlyphs" stroke="#1b1b1b" stroke-width="0.41">C18</text>
<rect x="355.2" y="461" width="6.5" height="6" rx="0" fill="#6c6c6f"/>
<rect x="364.6" y="461" width="6.0" height="6" rx="0" fill="#6c6c6f"/>
<text x="373.2" y="467.8" font-family="Liberation Sans" font-size="8" font-weight="normal" fill="#1b1b1b" text-anchor="start" textLength="12" lengthAdjust="spacingAndGlyphs" stroke="#1b1b1b" stroke-width="0.44">C15</text>
<rect x="310" y="464" width="8.4" height="35.4" rx="0" fill="#afafb1"/>
<rect x="304" y="464" width="6" height="16.8" rx="0" fill="#6c6c6f"/>
<rect x="304" y="482.2" width="6" height="17.2" rx="0" fill="#6c6c6f"/>
<rect x="319.4" y="464" width="7.5" height="16.8" rx="0" fill="#6c6c6f"/>
<rect x="319.4" y="482.2" width="7.5" height="17.2" rx="0" fill="#6c6c6f"/>
<rect x="309.4" y="457.5" width="6.0" height="5.0" rx="0" fill="#6c6c6f"/>
<rect x="319.4" y="457.5" width="6.0" height="5.0" rx="0" fill="#6c6c6f"/>
<text x="280" y="497.5" font-family="Liberation Sans" font-size="11" font-weight="normal" fill="#1b1b1b" text-anchor="start" textLength="18.5" lengthAdjust="spacingAndGlyphs" stroke="#1b1b1b" stroke-width="0.6">C22</text>
<rect x="314.4" y="502.4" width="6.6" height="5.6" rx="0" fill="#6c6c6f"/>
<rect x="323.4" y="502.4" width="6.6" height="5.6" rx="0" fill="#6c6c6f"/>
<text x="292.5" y="509" font-family="Liberation Sans" font-size="10.5" font-weight="normal" fill="#1b1b1b" text-anchor="start" textLength="19.5" lengthAdjust="spacingAndGlyphs" stroke="#1b1b1b" stroke-width="0.58">C24</text>
<text x="329" y="486" font-family="Liberation Sans" font-size="10" font-weight="normal" fill="#1b1b1b" text-anchor="start" stroke="#1b1b1b" stroke-width="0.55">+</text>
<text x="330" y="503" font-family="Liberation Sans" font-size="10" font-weight="normal" fill="#1b1b1b" text-anchor="start" stroke="#1b1b1b" stroke-width="0.55">+</text>
<rect x="287" y="517.8" width="20" height="19" rx="3" fill="none" stroke="#ffffff" stroke-width="1.3"/>
<rect x="291" y="525.8" width="12" height="10.0" rx="0" fill="#6c6c6f"/>
<rect x="313.9" y="525.8" width="12.0" height="10.0" rx="0" fill="#6c6c6f"/>
<text x="291" y="523.8" font-family="Liberation Sans" font-size="11" font-weight="normal" fill="#1b1b1b" text-anchor="start" textLength="12" lengthAdjust="spacingAndGlyphs" stroke="#1b1b1b" stroke-width="0.6">R8</text>
<text x="314.9" y="523.8" font-family="Liberation Sans" font-size="11" font-weight="normal" fill="#1b1b1b" text-anchor="start" textLength="11.4" lengthAdjust="spacingAndGlyphs" stroke="#1b1b1b" stroke-width="0.6">R9</text>
<text x="356.8" y="520.8" font-family="Liberation Sans" font-size="12.5" font-weight="normal" fill="#1b1b1b" text-anchor="start" textLength="22.9" lengthAdjust="spacingAndGlyphs" transform="rotate(-90 356.8 520.8)" stroke="#1b1b1b" stroke-width="0.69">C17</text>
<text x="378.7" y="517.8" font-family="Liberation Sans" font-size="13" font-weight="normal" fill="#1b1b1b" text-anchor="start" textLength="23" lengthAdjust="spacingAndGlyphs" stroke="#1b1b1b" stroke-width="0.71">C16</text>
<rect x="367.4" y="497.3" width="8.5" height="8.5" rx="0" fill="#6c6c6f"/>
<rect x="367.4" y="509.8" width="8.5" height="8.6" rx="0" fill="#6c6c6f"/>
<rect x="358.8" y="497.3" width="5.7" height="6.3" rx="0" fill="#6c6c6f"/>
<rect x="358.8" y="505.8" width="5.7" height="6.3" rx="0" fill="#6c6c6f"/>
<circle cx="367.9" cy="508.1" r="0.9" fill="#1b1b1b"/><circle cx="374.2" cy="508.1" r="0.9" fill="#1b1b1b"/>
<rect x="378.2" y="487" width="6.2" height="5.7" rx="0" fill="#6c6c6f"/>
<rect x="387.3" y="487" width="6.3" height="5.7" rx="0" fill="#6c6c6f"/>
<rect x="378.2" y="495.6" width="8.5" height="8.0" rx="0" fill="#6c6c6f"/>
<rect x="391.3" y="495.6" width="8.5" height="8.0" rx="0" fill="#6c6c6f"/>
<circle cx="389" cy="495.8" r="0.9" fill="#1b1b1b"/><circle cx="389" cy="501.9" r="0.9" fill="#1b1b1b"/>
<text x="399.6" y="490.5" font-family="Liberation Sans" font-size="13.5" font-weight="normal" fill="#1b1b1b" text-anchor="start" textLength="25.2" lengthAdjust="spacingAndGlyphs" stroke="#1b1b1b" stroke-width="0.74">C20</text>
<text x="402.8" y="503.6" font-family="Liberation Sans" font-size="13.5" font-weight="normal" fill="#1b1b1b" text-anchor="start" textLength="22.8" lengthAdjust="spacingAndGlyphs" stroke="#1b1b1b" stroke-width="0.74">C21</text>
<text x="362.8" y="487" font-family="Liberation Sans" font-size="12.5" font-weight="normal" fill="#1b1b1b" text-anchor="start" textLength="13.9" lengthAdjust="spacingAndGlyphs" stroke="#1b1b1b" stroke-width="0.69">U1</text>
<circle cx="343.4" cy="471.7" r="1.3" fill="#707072"/>
<circle cx="347.1" cy="471.7" r="1.3" fill="#707072"/>
<circle cx="350.8" cy="471.7" r="1.3" fill="#707072"/>
<circle cx="354.6" cy="471.7" r="1.3" fill="#707072"/>
<path d="M357.5 471.7H361.5" fill="none" stroke="#ffffff" stroke-width="0.9"/>
<circle cx="343.4" cy="475.6" r="1.3" fill="#707072"/>
<circle cx="347.1" cy="475.6" r="1.3" fill="#707072"/>
<circle cx="350.8" cy="475.6" r="1.3" fill="#707072"/>
<circle cx="354.6" cy="475.6" r="1.3" fill="#707072"/>
<path d="M357.5 475.6H361.5" fill="none" stroke="#ffffff" stroke-width="0.9"/>
<circle cx="343.4" cy="479.6" r="1.3" fill="#707072"/>
<circle cx="347.1" cy="479.6" r="1.3" fill="#707072"/>
<circle cx="350.8" cy="479.6" r="1.3" fill="#707072"/>
<circle cx="354.6" cy="479.6" r="1.3" fill="#707072"/>
<path d="M357.5 479.6H361.5" fill="none" stroke="#ffffff" stroke-width="0.9"/>
<circle cx="343.4" cy="483.6" r="1.3" fill="#707072"/>
<circle cx="347.1" cy="483.6" r="1.3" fill="#707072"/>
<circle cx="350.8" cy="483.6" r="1.3" fill="#707072"/>
<circle cx="354.6" cy="483.6" r="1.3" fill="#707072"/>
<path d="M357.5 483.6H361.5" fill="none" stroke="#ffffff" stroke-width="0.9"/>
<circle cx="343.4" cy="487" r="1.3" fill="#707072"/>
<circle cx="347.1" cy="487" r="1.3" fill="#707072"/>
<circle cx="350.8" cy="487" r="1.3" fill="#707072"/>
<circle cx="354.6" cy="487" r="1.3" fill="#707072"/>
<path d="M357.5 487H361.5" fill="none" stroke="#ffffff" stroke-width="0.9"/>
<circle cx="343.4" cy="490.5" r="1.3" fill="#707072"/>
<circle cx="347.1" cy="490.5" r="1.3" fill="#707072"/>
<circle cx="350.8" cy="490.5" r="1.3" fill="#707072"/>
<circle cx="354.6" cy="490.5" r="1.3" fill="#707072"/>
<path d="M357.5 490.5H361.5" fill="none" stroke="#ffffff" stroke-width="0.9"/>
<circle cx="358.2" cy="471.7" r="1.3" fill="#707072"/><circle cx="358.2" cy="475.6" r="1.3" fill="#707072"/>
<circle cx="364.8" cy="471" r="2" fill="#1b1b1b"/>
<text x="366.2" y="545.6" font-family="Liberation Sans" font-size="11" font-weight="normal" fill="#1b1b1b" text-anchor="start" textLength="16.5" lengthAdjust="spacingAndGlyphs" transform="rotate(-90 366.2 545.6)" stroke="#1b1b1b" stroke-width="0.6">R16</text>
<text x="376.4" y="545.6" font-family="Liberation Sans" font-size="11" font-weight="normal" fill="#1b1b1b" text-anchor="start" textLength="16.5" lengthAdjust="spacingAndGlyphs" transform="rotate(-90 376.4 545.6)" stroke="#1b1b1b" stroke-width="0.6">R19</text>
<text x="386.6" y="545.6" font-family="Liberation Sans" font-size="11" font-weight="normal" fill="#1b1b1b" text-anchor="start" textLength="16.5" lengthAdjust="spacingAndGlyphs" transform="rotate(-90 386.6 545.6)" stroke="#1b1b1b" stroke-width="0.6">R17</text>
<text x="393.7" y="547.1" font-family="Liberation Sans" font-size="14" font-weight="normal" fill="#1b1b1b" text-anchor="start" textLength="26.6" lengthAdjust="spacingAndGlyphs" stroke="#1b1b1b" stroke-width="0.77">VDD1</text>
<text x="240" y="553.9" font-family="Liberation Sans" font-size="13" font-weight="normal" fill="#1b1b1b" text-anchor="start" textLength="25.1" lengthAdjust="spacingAndGlyphs" stroke="#1b1b1b" stroke-width="0.71">C27</text>
<rect x="267.9" y="544.8" width="7.9" height="8.0" rx="0" fill="#6c6c6f"/>
<rect x="280.4" y="544.8" width="8.0" height="8.0" rx="0" fill="#6c6c6f"/>
<rect x="291.8" y="543.7" width="11.4" height="9.5" rx="0" fill="#6c6c6f"/>
<rect x="314.6" y="543.7" width="11.4" height="9.5" rx="0" fill="#6c6c6f"/>
<rect x="329" y="543.7" width="7.7" height="9.5" rx="0" fill="#6c6c6f"/>
<rect x="340.8" y="543.7" width="9.1" height="9.5" rx="0" fill="#6c6c6f"/>
<text x="329.9" y="542.5" font-family="Liberation Sans" font-size="12" font-weight="normal" fill="#1b1b1b" text-anchor="start" textLength="18.9" lengthAdjust="spacingAndGlyphs" stroke="#1b1b1b" stroke-width="0.66">C28</text>
<rect x="341.9" y="557.8" width="5.7" height="5.9" rx="0" fill="#6c6c6f"/>
<rect x="351" y="557.8" width="5.8" height="5.9" rx="0" fill="#6c6c6f"/>
<text x="327.1" y="563" font-family="Liberation Sans" font-size="8" font-weight="normal" fill="#1b1b1b" text-anchor="start" textLength="11.9" lengthAdjust="spacingAndGlyphs" stroke="#1b1b1b" stroke-width="0.44">R12</text>
<rect x="360.2" y="548.2" width="5.7" height="6.8" rx="0" fill="#6c6c6f"/>
<rect x="360.2" y="557.4" width="5.7" height="6.3" rx="0" fill="#6c6c6f"/>
<rect x="369.3" y="548.2" width="5.7" height="6.8" rx="0" fill="#6c6c6f"/>
<rect x="369.3" y="557.4" width="5.7" height="6.3" rx="0" fill="#6c6c6f"/>
<rect x="378.4" y="548.2" width="5.7" height="6.8" rx="0" fill="#6c6c6f"/>
<rect x="378.4" y="557.4" width="5.7" height="6.3" rx="0" fill="#6c6c6f"/>
<text x="229.1" y="581.3" font-family="Liberation Sans" font-size="19" font-weight="normal" fill="#1b1b1b" text-anchor="start" textLength="44.5" lengthAdjust="spacingAndGlyphs" stroke="#1b1b1b" stroke-width="1.04">OUT1</text>
<rect x="276.5" y="565.3" width="98.5" height="65.0" rx="0" fill="none" stroke="#111" stroke-width="1.7"/>
<rect x="281.1" y="559.6" width="13.7" height="5.7" rx="0" fill="#111"/>
<rect x="284.9" y="589.2" width="16" height="16" rx="3" fill="#6c6c6f"/>
<circle cx="292.9" cy="597.2" r="5.6" fill="#1c4c7e"/>
<circle cx="325.3" cy="597.2" r="5.6" fill="#1c4c7e"/>
<circle cx="357.9" cy="597.2" r="5.6" fill="#1c4c7e"/>
<text x="259.9" y="601.8" font-family="Liberation Sans" font-size="12.5" font-weight="normal" fill="#1b1b1b" text-anchor="start" textLength="14.8" lengthAdjust="spacingAndGlyphs" stroke="#1b1b1b" stroke-width="0.69">J8</text>
<rect x="224.6" y="612.6" width="5.4" height="6.4" rx="0" fill="#6c6c6f"/>
<rect x="224.6" y="621.4" width="5.4" height="6.6" rx="0" fill="#6c6c6f"/>
<text x="231.4" y="622.6" font-family="Liberation Sans" font-size="11" font-weight="normal" fill="#1b1b1b" text-anchor="start" textLength="12" lengthAdjust="spacingAndGlyphs" stroke="#1b1b1b" stroke-width="0.6">R6</text>
<rect x="268.6" y="613" width="5.4" height="7" rx="0" fill="#6c6c6f"/>
<rect x="268.6" y="622" width="5.4" height="7" rx="0" fill="#6c6c6f"/>
<text x="256.6" y="623.4" font-family="Liberation Sans" font-size="7.5" font-weight="normal" fill="#1b1b1b" text-anchor="start" textLength="10.4" lengthAdjust="spacingAndGlyphs" stroke="#1b1b1b" stroke-width="0.41">R11</text>
<text x="426.1" y="523.1" font-family="Liberation Sans" font-size="10.5" font-weight="normal" fill="#1b1b1b" text-anchor="start" textLength="15.8" lengthAdjust="spacingAndGlyphs" stroke="#1b1b1b" stroke-width="0.58">J12</text>
<text x="459.9" y="523.1" font-family="Liberation Sans" font-size="10.5" font-weight="normal" fill="#1b1b1b" text-anchor="start" textLength="16.3" lengthAdjust="spacingAndGlyphs" stroke="#1b1b1b" stroke-width="0.58">J13</text>
<rect x="424.5" y="527.2" width="25.5" height="71.1" rx="0" fill="#232323"/>
<rect x="424.5" y="527.2" width="25.5" height="23.8" rx="0" fill="#a1a1a3" stroke="#111" stroke-width="1.4"/>
<rect x="427.0" y="529.4" width="20.5" height="19.5" fill="#7b7b7d" stroke="#cdcdcf" stroke-width="2.2"/>
<circle cx="437" cy="538.6" r="4.7" fill="#1c4c7e"/>
<rect x="452.4" y="527.2" width="25.4" height="71.1" rx="0" fill="#232323"/>
<rect x="452.4" y="527.2" width="25.4" height="23.8" rx="0" fill="#a1a1a3" stroke="#111" stroke-width="1.4"/>
<rect x="454.9" y="529.4" width="20.4" height="19.5" fill="#7b7b7d" stroke="#cdcdcf" stroke-width="2.2"/>
<circle cx="464.7" cy="538.6" r="4.7" fill="#1c4c7e"/>
<rect x="394.1" y="550.2" width="25.5" height="48.1" rx="1.5" fill="#232323"/>
<text x="398.7" y="611.3" font-family="Liberation Sans" font-size="12.5" font-weight="normal" fill="#1b1b1b" text-anchor="start" textLength="14.8" lengthAdjust="spacingAndGlyphs" stroke="#1b1b1b" stroke-width="0.69">J7</text>
<circle cx="418.5" cy="602.5" r="1.5" fill="#1b1b1b"/>
<text x="425.2" y="611.3" font-family="Liberation Sans" font-size="12.5" font-weight="normal" fill="#1b1b1b" text-anchor="start" textLength="25.4" lengthAdjust="spacingAndGlyphs" stroke="#1b1b1b" stroke-width="0.69">AD0</text>
<text x="455.2" y="611.3" font-family="Liberation Sans" font-size="12.5" font-weight="normal" fill="#1b1b1b" text-anchor="start" textLength="22.2" lengthAdjust="spacingAndGlyphs" stroke="#1b1b1b" stroke-width="0.69">AD1</text>
<rect x="384.8" y="631.1" width="96.3" height="24.6" rx="0" fill="#a1a1a3" stroke="#111" stroke-width="1.6"/>
<rect x="433" y="631.1" width="48.1" height="24.6" rx="0" fill="#232323"/>
<rect x="388.5" y="635.4" width="16.7" height="16.6" fill="#7b7b7d" stroke="#8f8f91" stroke-width="1.2"/>
<circle cx="397.4" cy="643.7" r="4.7" fill="#1c4c7e"/>
<circle cx="420.4" cy="643.7" r="4.7" fill="#1c4c7e"/>
<rect x="391.3" y="628.6" width="7.4" height="2.5" rx="0" fill="#111"/>
<text x="482.8" y="639" font-family="Liberation Sans" font-size="12.5" font-weight="normal" fill="#1b1b1b" text-anchor="start" textLength="20" lengthAdjust="spacingAndGlyphs" stroke="#1b1b1b" stroke-width="0.69">J15</text>
<text x="482.8" y="655.2" font-family="Liberation Sans" font-size="14" font-weight="normal" fill="#1b1b1b" text-anchor="start" textLength="36.9" lengthAdjust="spacingAndGlyphs" stroke="#1b1b1b" stroke-width="0.77">OUT1</text>
<path d="M431.3 446.5L473.7 491.3M476.2 446.5L432.2 491.3" fill="none" stroke="#1b1b1b" stroke-width="1.2"/>
<path d="M442.7 454H466.4M444.4 455.5L446.8 486.4H462.3L464.7 455.5" fill="none" stroke="#1b1b1b" stroke-width="1.4"/>
<circle cx="461.5" cy="483.7" r="3" fill="#a1a1a3" stroke="#1b1b1b" stroke-width="1.2"/>
<rect x="446.8" y="449.8" width="12.2" height="3.2" rx="0" fill="#1b1b1b"/>
<rect x="463.9" y="457.1" width="2.5" height="4.1" rx="0" fill="none" stroke="#1b1b1b" stroke-width="0.8"/>
<rect x="450.9" y="462.8" width="9.0" height="1.6" rx="0" fill="#1b1b1b"/>
<rect x="435.1" y="501.1" width="37.8" height="9.3" rx="0" fill="#232323"/>
<path d="M289 538V543" fill="none" stroke="#1b1b1b" stroke-width="1.3"/>
<path d="M304 538V543" fill="none" stroke="#1b1b1b" stroke-width="1.3"/>
<path d="M313 538V543" fill="none" stroke="#1b1b1b" stroke-width="1.3"/>
<path d="M327 538V543" fill="none" stroke="#1b1b1b" stroke-width="1.3"/>
<circle cx="323.8" cy="222.4" r="0.9" fill="#1b1b1b"/><circle cx="329.6" cy="222.4" r="0.9" fill="#1b1b1b"/>
</svg></body></html>
